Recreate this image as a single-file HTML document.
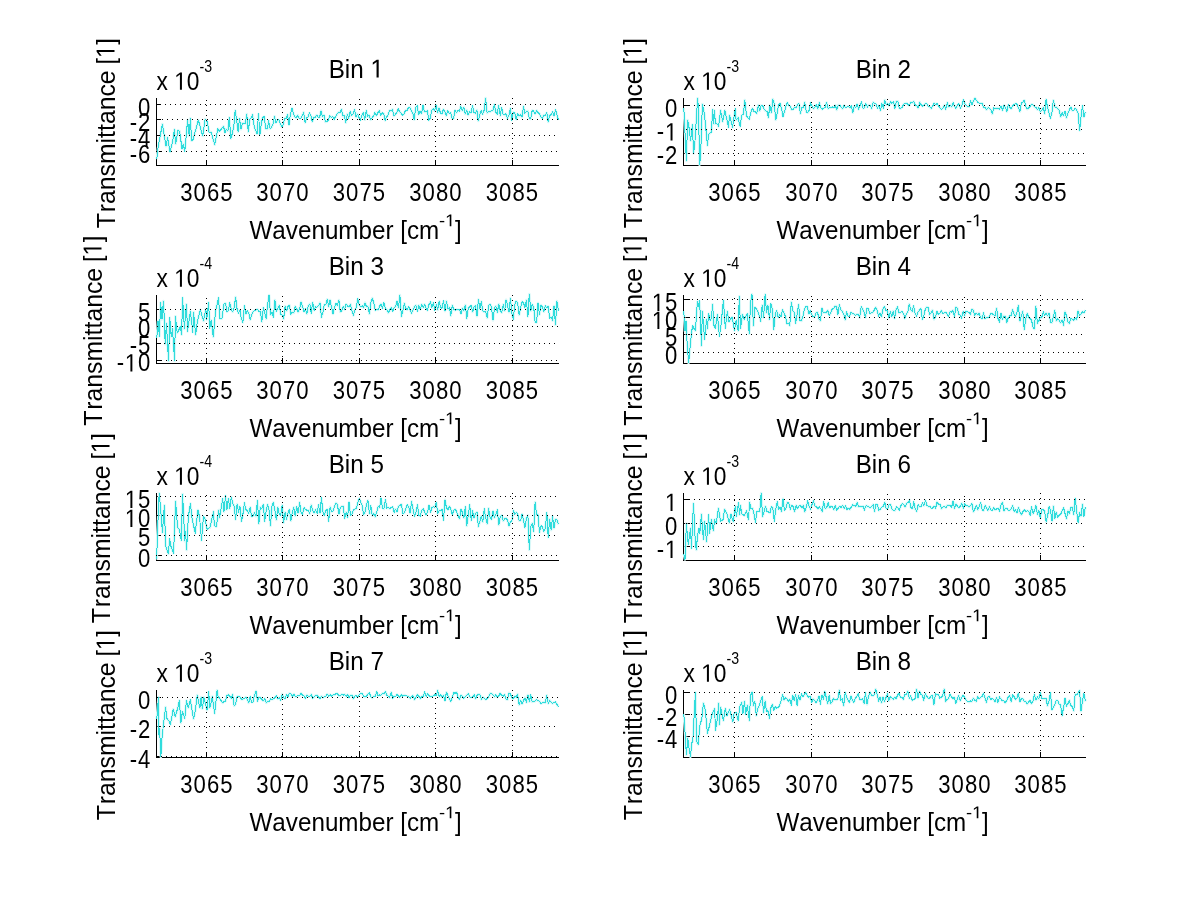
<!DOCTYPE html>
<html><head><meta charset="utf-8"><title>Bins</title>
<style>html,body{margin:0;padding:0;background:#fff;overflow:hidden;}svg{display:block;}text{font-family:"Liberation Sans",sans-serif;font-size:25px;fill:#000;font-kerning:none;}</style>
</head><body>
<svg width="1200" height="901" viewBox="0 0 1200 901">
<rect width="1200" height="901" fill="#fff"/>
<g>
<path d="M156.5 98V166M156 165.5H559M156 104.5H161M156 119.5H161M156 135.5H161M156 151.5H161M206.5 166V160M282.5 166V160M359.5 166V160M435.5 166V160M512.5 166V160" stroke="#000" stroke-width="1" fill="none" shape-rendering="crispEdges"/>
<polyline points="156.8,159.1 158.0,147.9 162.4,124.0 166.0,146.3 167.6,137.6 170.0,151.9 172.8,140.7 174.4,129.6 175.6,143.9 178.0,130.4 179.6,131.2 182.0,148.7 183.2,143.9 184.8,151.1 187.6,120.0 189.2,136.0 190.4,118.4 191.6,140.7 193.2,139.2 198.3,120.0 202.7,136.0 205.1,119.2 207.1,121.6 209.1,132.0 211.1,132.0 214.7,144.7 217.9,128.8 219.5,131.2 223.5,126.4 225.0,132.6 226.4,129.1 227.9,130.8 229.3,117.5 230.8,138.5 232.3,133.6 233.7,127.2 235.2,110.5 236.6,119.3 238.1,131.8 239.5,118.5 241.0,129.2 242.4,123.4 243.9,123.1 245.4,123.5 246.8,114.1 248.3,132.0 249.7,119.2 251.2,118.1 252.6,114.6 254.1,126.1 255.6,130.2 257.0,134.0 258.5,114.0 259.9,134.4 261.4,123.1 262.8,117.3 264.3,116.7 265.7,128.8 267.2,129.1 268.7,120.9 270.1,128.6 271.6,127.2 273.0,123.9 274.5,116.2 275.9,122.6 277.4,120.4 278.8,119.8 280.3,123.4 281.8,127.0 283.2,124.9 284.7,118.4 286.1,118.3 287.6,114.7 289.0,124.7 290.5,114.1 292.0,108.0 293.4,113.9 294.9,116.9 296.3,117.8 297.8,115.2 299.2,118.3 300.7,118.4 302.1,116.0 303.6,112.1 305.1,122.5 306.5,118.1 308.0,116.8 309.4,113.0 310.9,116.0 312.3,121.7 313.8,117.1 315.2,117.2 316.7,115.0 318.2,117.1 319.6,117.2 321.1,110.8 322.5,116.6 324.0,115.2 325.4,121.9 326.9,121.8 328.4,119.9 329.8,115.8 331.3,117.3 332.7,116.8 334.2,119.3 335.6,116.4 337.1,114.2 338.5,112.3 340.0,112.7 341.5,109.3 342.9,116.2 344.4,115.5 345.8,122.7 347.3,114.1 348.7,118.2 350.2,111.3 351.6,115.5 353.1,113.9 354.6,109.8 356.0,116.9 357.5,114.2 358.9,117.4 360.4,120.2 361.8,115.8 363.3,112.7 364.8,119.8 366.2,110.6 367.7,116.5 369.1,115.2 370.6,119.8 372.0,118.1 373.5,115.9 374.9,112.4 376.4,115.6 377.9,112.7 379.3,110.5 380.8,115.2 382.2,112.8 383.7,113.6 385.1,120.5 386.6,116.9 388.0,115.1 389.5,110.6 391.0,111.0 392.4,109.3 393.9,116.0 395.3,114.5 396.8,112.7 398.2,108.9 399.7,111.6 401.2,113.6 402.6,115.1 404.1,113.7 405.5,110.4 407.0,110.5 408.4,107.8 409.9,107.4 411.3,110.5 412.8,113.4 414.3,119.7 415.7,107.6 417.2,105.7 418.6,114.5 420.1,111.3 421.5,113.5 423.0,105.3 424.4,111.7 425.9,111.9 427.4,110.7 428.8,120.2 430.3,118.0 431.7,110.0 433.2,108.9 434.6,111.0 436.1,105.0 437.6,112.6 439.0,107.9 440.5,113.2 441.9,113.9 443.4,109.4 444.8,111.7 446.3,115.7 447.7,110.9 449.2,113.2 450.7,112.6 452.1,118.6 453.6,118.5 455.0,110.4 456.5,112.6 457.9,110.7 459.4,111.1 460.8,106.1 462.3,110.5 463.8,107.5 465.2,114.0 466.7,110.2 468.1,115.2 469.6,111.7 471.0,112.5 472.5,106.0 474.0,112.5 475.4,113.4 476.9,110.0 478.3,121.0 479.8,114.2 481.2,110.8 482.7,114.1 484.1,110.2 485.6,98.0 487.1,113.1 488.5,111.5 490.0,111.8 491.4,110.7 492.9,110.7 494.3,104.5 495.8,112.4 497.2,114.2 498.7,105.5 500.2,115.7 501.6,107.7 503.1,114.0 504.5,115.0 506.0,113.7 507.4,118.8 508.9,115.4 510.4,108.6 511.8,120.2 513.3,112.4 514.7,112.9 516.2,119.3 517.6,113.9 519.1,116.2 520.5,114.5 522.0,117.3 523.5,106.3 524.9,113.3 526.4,111.3 527.8,111.0 529.3,118.5 530.7,118.9 532.2,110.5 533.6,111.1 535.1,113.8 536.6,110.5 538.0,112.7 539.5,113.7 540.9,116.6 542.4,118.5 543.8,115.1 545.3,115.3 546.8,112.8 548.2,122.0 549.7,115.3 551.1,114.8 552.6,111.8 554.0,116.1 555.5,109.9 556.9,114.3 558.4,120.0" fill="none" stroke="#d6f8f8" stroke-width="2.6" stroke-linejoin="round"/>
<polyline points="156.8,159.1 158.0,147.9 162.4,124.0 166.0,146.3 167.6,137.6 170.0,151.9 172.8,140.7 174.4,129.6 175.6,143.9 178.0,130.4 179.6,131.2 182.0,148.7 183.2,143.9 184.8,151.1 187.6,120.0 189.2,136.0 190.4,118.4 191.6,140.7 193.2,139.2 198.3,120.0 202.7,136.0 205.1,119.2 207.1,121.6 209.1,132.0 211.1,132.0 214.7,144.7 217.9,128.8 219.5,131.2 223.5,126.4 225.0,132.6 226.4,129.1 227.9,130.8 229.3,117.5 230.8,138.5 232.3,133.6 233.7,127.2 235.2,110.5 236.6,119.3 238.1,131.8 239.5,118.5 241.0,129.2 242.4,123.4 243.9,123.1 245.4,123.5 246.8,114.1 248.3,132.0 249.7,119.2 251.2,118.1 252.6,114.6 254.1,126.1 255.6,130.2 257.0,134.0 258.5,114.0 259.9,134.4 261.4,123.1 262.8,117.3 264.3,116.7 265.7,128.8 267.2,129.1 268.7,120.9 270.1,128.6 271.6,127.2 273.0,123.9 274.5,116.2 275.9,122.6 277.4,120.4 278.8,119.8 280.3,123.4 281.8,127.0 283.2,124.9 284.7,118.4 286.1,118.3 287.6,114.7 289.0,124.7 290.5,114.1 292.0,108.0 293.4,113.9 294.9,116.9 296.3,117.8 297.8,115.2 299.2,118.3 300.7,118.4 302.1,116.0 303.6,112.1 305.1,122.5 306.5,118.1 308.0,116.8 309.4,113.0 310.9,116.0 312.3,121.7 313.8,117.1 315.2,117.2 316.7,115.0 318.2,117.1 319.6,117.2 321.1,110.8 322.5,116.6 324.0,115.2 325.4,121.9 326.9,121.8 328.4,119.9 329.8,115.8 331.3,117.3 332.7,116.8 334.2,119.3 335.6,116.4 337.1,114.2 338.5,112.3 340.0,112.7 341.5,109.3 342.9,116.2 344.4,115.5 345.8,122.7 347.3,114.1 348.7,118.2 350.2,111.3 351.6,115.5 353.1,113.9 354.6,109.8 356.0,116.9 357.5,114.2 358.9,117.4 360.4,120.2 361.8,115.8 363.3,112.7 364.8,119.8 366.2,110.6 367.7,116.5 369.1,115.2 370.6,119.8 372.0,118.1 373.5,115.9 374.9,112.4 376.4,115.6 377.9,112.7 379.3,110.5 380.8,115.2 382.2,112.8 383.7,113.6 385.1,120.5 386.6,116.9 388.0,115.1 389.5,110.6 391.0,111.0 392.4,109.3 393.9,116.0 395.3,114.5 396.8,112.7 398.2,108.9 399.7,111.6 401.2,113.6 402.6,115.1 404.1,113.7 405.5,110.4 407.0,110.5 408.4,107.8 409.9,107.4 411.3,110.5 412.8,113.4 414.3,119.7 415.7,107.6 417.2,105.7 418.6,114.5 420.1,111.3 421.5,113.5 423.0,105.3 424.4,111.7 425.9,111.9 427.4,110.7 428.8,120.2 430.3,118.0 431.7,110.0 433.2,108.9 434.6,111.0 436.1,105.0 437.6,112.6 439.0,107.9 440.5,113.2 441.9,113.9 443.4,109.4 444.8,111.7 446.3,115.7 447.7,110.9 449.2,113.2 450.7,112.6 452.1,118.6 453.6,118.5 455.0,110.4 456.5,112.6 457.9,110.7 459.4,111.1 460.8,106.1 462.3,110.5 463.8,107.5 465.2,114.0 466.7,110.2 468.1,115.2 469.6,111.7 471.0,112.5 472.5,106.0 474.0,112.5 475.4,113.4 476.9,110.0 478.3,121.0 479.8,114.2 481.2,110.8 482.7,114.1 484.1,110.2 485.6,98.0 487.1,113.1 488.5,111.5 490.0,111.8 491.4,110.7 492.9,110.7 494.3,104.5 495.8,112.4 497.2,114.2 498.7,105.5 500.2,115.7 501.6,107.7 503.1,114.0 504.5,115.0 506.0,113.7 507.4,118.8 508.9,115.4 510.4,108.6 511.8,120.2 513.3,112.4 514.7,112.9 516.2,119.3 517.6,113.9 519.1,116.2 520.5,114.5 522.0,117.3 523.5,106.3 524.9,113.3 526.4,111.3 527.8,111.0 529.3,118.5 530.7,118.9 532.2,110.5 533.6,111.1 535.1,113.8 536.6,110.5 538.0,112.7 539.5,113.7 540.9,116.6 542.4,118.5 543.8,115.1 545.3,115.3 546.8,112.8 548.2,122.0 549.7,115.3 551.1,114.8 552.6,111.8 554.0,116.1 555.5,109.9 556.9,114.3 558.4,120.0" fill="none" stroke="#30dcdc" stroke-width="1" stroke-linejoin="round" shape-rendering="crispEdges"/>
<path d="M206.5 166V98M282.5 163V98M359.5 165V98M435.5 162V98M512.5 164V98M160 104.5H559M157 119.5H559M159 135.5H559M156 151.5H559" stroke="#000" stroke-width="1" stroke-dasharray="1 4" fill="none" shape-rendering="crispEdges"/>
</g>
<g>
<path d="M683.5 98V166M683 165.5H1086M683 105.5H690M683 129.5H690M683 153.5H690M734.5 166V160M811.5 166V160M887.5 166V160M964.5 166V160M1040.5 166V160" stroke="#000" stroke-width="1" fill="none" shape-rendering="crispEdges"/>
<polyline points="683.8,108.0 685.4,140.7 686.4,160.7 687.6,120.0 688.6,124.0 690.6,140.7 692.4,124.8 693.6,153.5 695.0,140.7 697.6,98.4 698.6,110.4 699.5,164.8 700.6,155.9 702.4,104.0 704.6,115.2 707.4,145.5 708.6,134.4 711.4,132.0 712.7,109.6 713.8,124.0 714.4,110.4 715.4,123.2 717.4,124.0 718.6,126.4 720.6,110.4 722.6,121.6 724.9,110.4 728.5,127.2 729.5,115.2 732.5,127.2 735.3,108.8 736.1,120.0 738.1,117.6 740.1,126.4 741.7,115.2 743.3,114.4 744.8,100.0 746.5,116.0 749.3,119.2 751.0,112.0 752.5,108.4 753.9,111.5 755.4,111.8 756.8,113.4 758.3,105.0 759.7,110.9 761.2,105.4 762.6,105.7 764.1,109.0 765.5,110.9 767.0,111.2 768.4,117.7 769.9,105.1 771.4,112.7 772.8,99.0 774.3,103.6 775.7,120.0 777.2,113.1 778.6,105.1 780.1,103.4 781.5,108.4 783.0,116.5 784.4,112.1 785.9,106.2 787.3,102.7 788.8,105.3 790.3,106.3 791.7,109.7 793.2,109.2 794.6,107.3 796.1,108.0 797.5,104.6 799.0,103.5 800.4,113.6 801.9,107.7 803.3,107.7 804.8,102.1 806.2,111.8 807.7,112.6 809.2,110.3 810.6,102.8 812.1,105.9 813.5,108.7 815.0,107.3 816.4,104.9 817.9,109.0 819.3,102.5 820.8,107.9 822.2,109.3 823.7,108.1 825.1,107.4 826.6,102.5 828.1,108.7 829.5,107.2 831.0,107.7 832.4,107.0 833.9,107.7 835.3,105.2 836.8,110.0 838.2,105.0 839.7,105.1 841.1,107.0 842.6,108.8 844.1,105.3 845.5,107.5 847.0,106.9 848.4,106.3 849.9,107.5 851.3,105.9 852.8,112.7 854.2,106.5 855.7,107.5 857.1,104.0 858.6,109.3 860.0,105.5 861.5,102.0 863.0,108.3 864.4,107.9 865.9,103.7 867.3,107.1 868.8,105.0 870.2,105.3 871.7,108.6 873.1,102.3 874.6,103.7 876.0,104.1 877.5,108.1 878.9,105.6 880.4,110.6 881.9,103.4 883.3,108.4 884.8,100.1 886.2,104.7 887.7,103.7 889.1,105.6 890.6,101.7 892.0,103.3 893.5,101.8 894.9,108.4 896.4,101.3 897.8,101.2 899.3,108.1 900.8,108.4 902.2,107.2 903.7,104.1 905.1,103.7 906.6,103.0 908.0,104.8 909.5,105.5 910.9,102.1 912.4,102.9 913.8,101.4 915.3,105.2 916.7,105.8 918.2,108.1 919.7,102.1 921.1,104.8 922.6,106.2 924.0,105.4 925.5,103.6 926.9,103.7 928.4,106.4 929.8,107.0 931.3,108.6 932.7,106.0 934.2,103.2 935.6,104.5 937.1,103.7 938.6,105.9 940.0,107.8 941.5,109.2 942.9,108.1 944.4,105.2 945.8,109.3 947.3,102.6 948.7,106.9 950.2,104.9 951.6,106.9 953.1,102.7 954.5,106.0 956.0,108.4 957.5,105.1 958.9,103.7 960.4,108.1 961.8,106.0 963.3,99.9 964.7,103.2 966.2,105.5 967.6,106.8 969.1,106.7 970.5,100.9 972.0,104.5 973.4,101.1 974.9,98.0 976.4,100.3 977.8,102.3 979.3,103.1 980.7,103.2 982.2,103.1 983.6,107.4 985.1,107.5 986.5,109.7 988.0,107.7 989.4,108.3 990.9,109.8 992.3,114.0 993.8,107.8 995.3,108.5 996.7,108.2 998.2,108.6 999.6,109.2 1001.1,106.3 1002.5,110.3 1004.0,105.2 1005.4,107.7 1006.9,111.5 1008.3,104.8 1009.8,107.3 1011.3,108.9 1012.7,105.5 1014.2,104.4 1015.6,103.6 1017.1,104.3 1018.5,107.8 1020.0,111.5 1021.4,103.1 1022.9,102.1 1024.3,100.3 1025.8,106.4 1027.2,109.1 1028.7,108.0 1030.2,106.1 1031.6,104.3 1033.1,104.9 1034.5,106.8 1036.0,107.5 1037.4,109.6 1038.9,107.6 1040.3,111.8 1041.8,110.3 1043.2,107.4 1044.7,113.8 1046.1,99.5 1047.6,107.7 1049.1,113.3 1050.5,118.3 1052.0,111.7 1053.4,100.3 1054.9,106.9 1056.3,107.3 1057.8,108.7 1059.2,110.4 1060.7,117.0 1062.1,112.7 1063.6,115.6 1065.0,111.5 1066.5,118.0 1068.0,112.8 1069.4,109.8 1070.9,106.9 1072.3,110.5 1073.8,110.3 1075.2,108.4 1076.7,110.0 1078.1,113.2 1079.6,130.5 1081.0,116.9 1082.5,105.7 1083.9,117.0 1085.4,112.0" fill="none" stroke="#d6f8f8" stroke-width="2.6" stroke-linejoin="round"/>
<polyline points="683.8,108.0 685.4,140.7 686.4,160.7 687.6,120.0 688.6,124.0 690.6,140.7 692.4,124.8 693.6,153.5 695.0,140.7 697.6,98.4 698.6,110.4 699.5,164.8 700.6,155.9 702.4,104.0 704.6,115.2 707.4,145.5 708.6,134.4 711.4,132.0 712.7,109.6 713.8,124.0 714.4,110.4 715.4,123.2 717.4,124.0 718.6,126.4 720.6,110.4 722.6,121.6 724.9,110.4 728.5,127.2 729.5,115.2 732.5,127.2 735.3,108.8 736.1,120.0 738.1,117.6 740.1,126.4 741.7,115.2 743.3,114.4 744.8,100.0 746.5,116.0 749.3,119.2 751.0,112.0 752.5,108.4 753.9,111.5 755.4,111.8 756.8,113.4 758.3,105.0 759.7,110.9 761.2,105.4 762.6,105.7 764.1,109.0 765.5,110.9 767.0,111.2 768.4,117.7 769.9,105.1 771.4,112.7 772.8,99.0 774.3,103.6 775.7,120.0 777.2,113.1 778.6,105.1 780.1,103.4 781.5,108.4 783.0,116.5 784.4,112.1 785.9,106.2 787.3,102.7 788.8,105.3 790.3,106.3 791.7,109.7 793.2,109.2 794.6,107.3 796.1,108.0 797.5,104.6 799.0,103.5 800.4,113.6 801.9,107.7 803.3,107.7 804.8,102.1 806.2,111.8 807.7,112.6 809.2,110.3 810.6,102.8 812.1,105.9 813.5,108.7 815.0,107.3 816.4,104.9 817.9,109.0 819.3,102.5 820.8,107.9 822.2,109.3 823.7,108.1 825.1,107.4 826.6,102.5 828.1,108.7 829.5,107.2 831.0,107.7 832.4,107.0 833.9,107.7 835.3,105.2 836.8,110.0 838.2,105.0 839.7,105.1 841.1,107.0 842.6,108.8 844.1,105.3 845.5,107.5 847.0,106.9 848.4,106.3 849.9,107.5 851.3,105.9 852.8,112.7 854.2,106.5 855.7,107.5 857.1,104.0 858.6,109.3 860.0,105.5 861.5,102.0 863.0,108.3 864.4,107.9 865.9,103.7 867.3,107.1 868.8,105.0 870.2,105.3 871.7,108.6 873.1,102.3 874.6,103.7 876.0,104.1 877.5,108.1 878.9,105.6 880.4,110.6 881.9,103.4 883.3,108.4 884.8,100.1 886.2,104.7 887.7,103.7 889.1,105.6 890.6,101.7 892.0,103.3 893.5,101.8 894.9,108.4 896.4,101.3 897.8,101.2 899.3,108.1 900.8,108.4 902.2,107.2 903.7,104.1 905.1,103.7 906.6,103.0 908.0,104.8 909.5,105.5 910.9,102.1 912.4,102.9 913.8,101.4 915.3,105.2 916.7,105.8 918.2,108.1 919.7,102.1 921.1,104.8 922.6,106.2 924.0,105.4 925.5,103.6 926.9,103.7 928.4,106.4 929.8,107.0 931.3,108.6 932.7,106.0 934.2,103.2 935.6,104.5 937.1,103.7 938.6,105.9 940.0,107.8 941.5,109.2 942.9,108.1 944.4,105.2 945.8,109.3 947.3,102.6 948.7,106.9 950.2,104.9 951.6,106.9 953.1,102.7 954.5,106.0 956.0,108.4 957.5,105.1 958.9,103.7 960.4,108.1 961.8,106.0 963.3,99.9 964.7,103.2 966.2,105.5 967.6,106.8 969.1,106.7 970.5,100.9 972.0,104.5 973.4,101.1 974.9,98.0 976.4,100.3 977.8,102.3 979.3,103.1 980.7,103.2 982.2,103.1 983.6,107.4 985.1,107.5 986.5,109.7 988.0,107.7 989.4,108.3 990.9,109.8 992.3,114.0 993.8,107.8 995.3,108.5 996.7,108.2 998.2,108.6 999.6,109.2 1001.1,106.3 1002.5,110.3 1004.0,105.2 1005.4,107.7 1006.9,111.5 1008.3,104.8 1009.8,107.3 1011.3,108.9 1012.7,105.5 1014.2,104.4 1015.6,103.6 1017.1,104.3 1018.5,107.8 1020.0,111.5 1021.4,103.1 1022.9,102.1 1024.3,100.3 1025.8,106.4 1027.2,109.1 1028.7,108.0 1030.2,106.1 1031.6,104.3 1033.1,104.9 1034.5,106.8 1036.0,107.5 1037.4,109.6 1038.9,107.6 1040.3,111.8 1041.8,110.3 1043.2,107.4 1044.7,113.8 1046.1,99.5 1047.6,107.7 1049.1,113.3 1050.5,118.3 1052.0,111.7 1053.4,100.3 1054.9,106.9 1056.3,107.3 1057.8,108.7 1059.2,110.4 1060.7,117.0 1062.1,112.7 1063.6,115.6 1065.0,111.5 1066.5,118.0 1068.0,112.8 1069.4,109.8 1070.9,106.9 1072.3,110.5 1073.8,110.3 1075.2,108.4 1076.7,110.0 1078.1,113.2 1079.6,130.5 1081.0,116.9 1082.5,105.7 1083.9,117.0 1085.4,112.0" fill="none" stroke="#30dcdc" stroke-width="1" stroke-linejoin="round" shape-rendering="crispEdges"/>
<path d="M734.5 166V98M811.5 163V98M887.5 165V98M964.5 162V98M1040.5 164V98M684 105.5H1086M686 129.5H1086M683 153.5H1086" stroke="#000" stroke-width="1" stroke-dasharray="1 4" fill="none" shape-rendering="crispEdges"/>
</g>
<g>
<path d="M156.5 295V364M156 363.5H559M156 309.5H161M156 326.5H161M156 343.5H161M156 360.5H161M206.5 364V358M282.5 364V358M359.5 364V358M435.5 364V358M512.5 364V358" stroke="#000" stroke-width="1" fill="none" shape-rendering="crispEdges"/>
<polyline points="156.8,337.7 158.0,321.0 159.4,336.2 160.6,302.6 162.0,319.4 163.4,301.0 164.4,321.0 165.2,344.1 166.4,323.4 168.5,360.9 169.8,317.8 171.2,336.2 172.5,329.0 174.6,360.9 175.4,316.2 177.2,333.0 180.4,326.6 181.6,334.6 182.6,297.8 184.4,329.0 186.4,304.2 187.6,331.4 189.2,319.4 190.4,311.4 192.8,332.2 193.6,312.2 195.6,334.6 197.6,320.2 200.3,309.8 203.5,321.0 205.9,309.0 206.7,319.4 208.6,302.6 209.9,328.2 211.1,320.2 213.3,336.9 215.5,311.4 218.6,297.8 219.9,318.6 221.9,318.6 224.0,304.2 225.5,303.3 226.9,311.9 228.4,310.4 229.8,302.7 231.3,309.6 232.7,311.9 234.2,307.7 235.6,297.0 237.1,309.2 238.5,313.0 240.0,310.3 241.4,318.9 242.9,322.5 244.4,305.9 245.8,313.9 247.3,310.9 248.7,312.8 250.2,319.7 251.6,315.0 253.1,311.7 254.5,310.3 256.0,310.1 257.4,309.1 258.9,311.4 260.3,311.4 261.8,321.9 263.3,307.9 264.7,313.0 266.2,318.9 267.6,304.4 269.1,295.0 270.5,314.6 272.0,311.8 273.4,317.1 274.9,300.0 276.3,311.2 277.8,308.4 279.2,305.4 280.7,314.4 282.2,315.1 283.6,319.0 285.1,306.2 286.5,311.0 288.0,306.4 289.4,305.2 290.9,314.4 292.3,312.1 293.8,312.9 295.2,306.4 296.7,308.7 298.1,312.1 299.6,308.9 301.1,301.8 302.5,306.8 304.0,311.5 305.4,309.0 306.9,313.8 308.3,305.8 309.8,304.0 311.2,313.2 312.7,302.5 314.1,310.3 315.6,306.9 317.1,307.1 318.5,305.8 320.0,302.7 321.4,317.3 322.9,312.3 324.3,304.9 325.8,304.8 327.2,299.3 328.7,306.8 330.1,300.0 331.6,307.5 333.0,313.9 334.5,307.2 336.0,303.6 337.4,305.5 338.9,300.1 340.3,312.0 341.8,310.8 343.2,306.7 344.7,309.4 346.1,304.2 347.6,306.0 349.0,307.1 350.5,304.1 351.9,310.7 353.4,315.4 354.9,309.9 356.3,307.7 357.8,298.8 359.2,304.5 360.7,306.9 362.1,305.8 363.6,307.8 365.0,302.6 366.5,306.8 367.9,306.5 369.4,314.0 370.8,302.7 372.3,298.1 373.8,303.1 375.2,310.3 376.7,309.6 378.1,310.0 379.6,306.3 381.0,303.8 382.5,308.4 383.9,302.8 385.4,308.7 386.8,309.4 388.3,313.0 389.7,310.1 391.2,307.6 392.7,311.1 394.1,308.1 395.6,306.3 397.0,301.2 398.5,307.7 399.9,295.0 401.4,316.4 402.8,311.0 404.3,303.2 405.7,308.2 407.2,309.8 408.6,306.8 410.1,309.7 411.6,313.3 413.0,310.1 414.5,306.5 415.9,305.4 417.4,311.1 418.8,305.4 420.3,309.4 421.7,304.4 423.2,307.5 424.6,304.4 426.1,308.6 427.5,310.3 429.0,304.4 430.5,301.9 431.9,307.6 433.4,302.9 434.8,310.1 436.3,304.6 437.7,309.9 439.2,301.4 440.6,307.7 442.1,308.2 443.5,301.0 445.0,311.1 446.4,301.0 447.9,309.0 449.4,307.5 450.8,315.9 452.3,305.2 453.7,309.7 455.2,310.2 456.6,309.5 458.1,309.8 459.5,309.8 461.0,313.6 462.4,308.3 463.9,310.6 465.3,305.0 466.8,318.5 468.3,308.2 469.7,306.6 471.2,305.5 472.6,311.9 474.1,306.9 475.5,305.9 477.0,316.2 478.4,299.6 479.9,309.0 481.3,301.6 482.8,311.0 484.3,312.0 485.7,311.4 487.2,318.0 488.6,305.5 490.1,304.3 491.5,307.2 493.0,320.4 494.4,308.2 495.9,306.1 497.3,312.5 498.8,304.1 500.2,311.0 501.7,312.7 503.2,304.6 504.6,310.7 506.1,299.8 507.5,305.1 509.0,312.3 510.4,298.3 511.9,313.1 513.3,319.4 514.8,304.4 516.2,301.1 517.7,303.3 519.1,314.9 520.6,308.0 522.1,301.6 523.5,302.9 525.0,307.5 526.4,300.1 527.9,316.4 529.3,294.0 530.8,311.0 532.2,304.6 533.7,307.2 535.1,322.0 536.6,322.4 538.0,303.1 539.5,314.6 541.0,305.1 542.4,306.8 543.9,311.7 545.3,305.9 546.8,307.8 548.2,306.4 549.7,318.1 551.1,317.3 552.6,320.6 554.0,306.1 555.5,325.0 556.9,301.0 558.4,310.6" fill="none" stroke="#d6f8f8" stroke-width="2.6" stroke-linejoin="round"/>
<polyline points="156.8,337.7 158.0,321.0 159.4,336.2 160.6,302.6 162.0,319.4 163.4,301.0 164.4,321.0 165.2,344.1 166.4,323.4 168.5,360.9 169.8,317.8 171.2,336.2 172.5,329.0 174.6,360.9 175.4,316.2 177.2,333.0 180.4,326.6 181.6,334.6 182.6,297.8 184.4,329.0 186.4,304.2 187.6,331.4 189.2,319.4 190.4,311.4 192.8,332.2 193.6,312.2 195.6,334.6 197.6,320.2 200.3,309.8 203.5,321.0 205.9,309.0 206.7,319.4 208.6,302.6 209.9,328.2 211.1,320.2 213.3,336.9 215.5,311.4 218.6,297.8 219.9,318.6 221.9,318.6 224.0,304.2 225.5,303.3 226.9,311.9 228.4,310.4 229.8,302.7 231.3,309.6 232.7,311.9 234.2,307.7 235.6,297.0 237.1,309.2 238.5,313.0 240.0,310.3 241.4,318.9 242.9,322.5 244.4,305.9 245.8,313.9 247.3,310.9 248.7,312.8 250.2,319.7 251.6,315.0 253.1,311.7 254.5,310.3 256.0,310.1 257.4,309.1 258.9,311.4 260.3,311.4 261.8,321.9 263.3,307.9 264.7,313.0 266.2,318.9 267.6,304.4 269.1,295.0 270.5,314.6 272.0,311.8 273.4,317.1 274.9,300.0 276.3,311.2 277.8,308.4 279.2,305.4 280.7,314.4 282.2,315.1 283.6,319.0 285.1,306.2 286.5,311.0 288.0,306.4 289.4,305.2 290.9,314.4 292.3,312.1 293.8,312.9 295.2,306.4 296.7,308.7 298.1,312.1 299.6,308.9 301.1,301.8 302.5,306.8 304.0,311.5 305.4,309.0 306.9,313.8 308.3,305.8 309.8,304.0 311.2,313.2 312.7,302.5 314.1,310.3 315.6,306.9 317.1,307.1 318.5,305.8 320.0,302.7 321.4,317.3 322.9,312.3 324.3,304.9 325.8,304.8 327.2,299.3 328.7,306.8 330.1,300.0 331.6,307.5 333.0,313.9 334.5,307.2 336.0,303.6 337.4,305.5 338.9,300.1 340.3,312.0 341.8,310.8 343.2,306.7 344.7,309.4 346.1,304.2 347.6,306.0 349.0,307.1 350.5,304.1 351.9,310.7 353.4,315.4 354.9,309.9 356.3,307.7 357.8,298.8 359.2,304.5 360.7,306.9 362.1,305.8 363.6,307.8 365.0,302.6 366.5,306.8 367.9,306.5 369.4,314.0 370.8,302.7 372.3,298.1 373.8,303.1 375.2,310.3 376.7,309.6 378.1,310.0 379.6,306.3 381.0,303.8 382.5,308.4 383.9,302.8 385.4,308.7 386.8,309.4 388.3,313.0 389.7,310.1 391.2,307.6 392.7,311.1 394.1,308.1 395.6,306.3 397.0,301.2 398.5,307.7 399.9,295.0 401.4,316.4 402.8,311.0 404.3,303.2 405.7,308.2 407.2,309.8 408.6,306.8 410.1,309.7 411.6,313.3 413.0,310.1 414.5,306.5 415.9,305.4 417.4,311.1 418.8,305.4 420.3,309.4 421.7,304.4 423.2,307.5 424.6,304.4 426.1,308.6 427.5,310.3 429.0,304.4 430.5,301.9 431.9,307.6 433.4,302.9 434.8,310.1 436.3,304.6 437.7,309.9 439.2,301.4 440.6,307.7 442.1,308.2 443.5,301.0 445.0,311.1 446.4,301.0 447.9,309.0 449.4,307.5 450.8,315.9 452.3,305.2 453.7,309.7 455.2,310.2 456.6,309.5 458.1,309.8 459.5,309.8 461.0,313.6 462.4,308.3 463.9,310.6 465.3,305.0 466.8,318.5 468.3,308.2 469.7,306.6 471.2,305.5 472.6,311.9 474.1,306.9 475.5,305.9 477.0,316.2 478.4,299.6 479.9,309.0 481.3,301.6 482.8,311.0 484.3,312.0 485.7,311.4 487.2,318.0 488.6,305.5 490.1,304.3 491.5,307.2 493.0,320.4 494.4,308.2 495.9,306.1 497.3,312.5 498.8,304.1 500.2,311.0 501.7,312.7 503.2,304.6 504.6,310.7 506.1,299.8 507.5,305.1 509.0,312.3 510.4,298.3 511.9,313.1 513.3,319.4 514.8,304.4 516.2,301.1 517.7,303.3 519.1,314.9 520.6,308.0 522.1,301.6 523.5,302.9 525.0,307.5 526.4,300.1 527.9,316.4 529.3,294.0 530.8,311.0 532.2,304.6 533.7,307.2 535.1,322.0 536.6,322.4 538.0,303.1 539.5,314.6 541.0,305.1 542.4,306.8 543.9,311.7 545.3,305.9 546.8,307.8 548.2,306.4 549.7,318.1 551.1,317.3 552.6,320.6 554.0,306.1 555.5,325.0 556.9,301.0 558.4,310.6" fill="none" stroke="#30dcdc" stroke-width="1" stroke-linejoin="round" shape-rendering="crispEdges"/>
<path d="M206.5 364V295M282.5 362V295M359.5 360V295M435.5 363V295M512.5 361V295M160 309.5H559M157 326.5H559M159 343.5H559M156 360.5H559" stroke="#000" stroke-width="1" stroke-dasharray="1 4" fill="none" shape-rendering="crispEdges"/>
</g>
<g>
<path d="M683.5 295V364M683 363.5H1086M683 299.5H690M683 317.5H690M683 334.5H690M683 352.5H690M734.5 364V358M811.5 364V358M887.5 364V358M964.5 364V358M1040.5 364V358" stroke="#000" stroke-width="1" fill="none" shape-rendering="crispEdges"/>
<polyline points="683.8,311.4 685.0,331.4 686.0,321.0 687.0,340.9 688.6,362.8 690.6,342.5 691.8,330.6 692.8,325.8 694.2,329.0 695.4,330.6 697.4,301.8 698.2,306.6 699.4,301.0 700.2,313.0 701.4,345.7 702.4,311.4 704.6,339.3 706.6,319.4 707.4,329.0 708.6,313.8 710.2,320.2 711.4,318.6 712.6,304.2 713.8,325.0 715.4,328.2 717.4,314.6 719.4,336.2 721.0,325.0 723.4,300.2 725.3,328.2 727.3,311.4 728.9,321.8 732.1,317.0 734.5,330.6 736.1,320.2 738.1,330.6 739.3,296.2 740.5,328.2 742.5,314.6 744.1,319.4 747.3,313.8 749.3,333.8 750.5,302.6 752.0,294.3 753.4,325.8 754.9,307.2 756.3,308.6 757.8,311.8 759.3,315.4 760.7,321.3 762.2,305.2 763.6,317.5 765.1,294.5 766.5,312.7 768.0,305.5 769.4,319.3 770.9,303.8 772.4,309.8 773.8,329.5 775.3,314.1 776.7,310.8 778.2,317.4 779.6,314.6 781.1,316.5 782.6,309.7 784.0,313.1 785.5,316.5 786.9,323.8 788.4,323.2 789.8,325.7 791.3,302.0 792.7,310.7 794.2,312.3 795.7,323.3 797.1,314.4 798.6,304.6 800.0,320.6 801.5,320.9 802.9,316.2 804.4,309.5 805.8,306.7 807.3,306.6 808.8,314.0 810.2,310.6 811.7,314.7 813.1,316.9 814.6,316.9 816.0,313.0 817.5,312.2 819.0,318.9 820.4,320.9 821.9,308.1 823.3,312.7 824.8,312.1 826.2,312.9 827.7,310.3 829.1,315.3 830.6,313.2 832.1,309.2 833.5,308.6 835.0,306.1 836.4,306.1 837.9,314.4 839.3,304.8 840.8,310.1 842.2,310.9 843.7,314.1 845.2,319.9 846.6,311.8 848.1,316.2 849.5,316.3 851.0,312.4 852.4,313.5 853.9,314.0 855.4,315.4 856.8,314.4 858.3,314.2 859.7,317.7 861.2,306.8 862.6,308.9 864.1,312.5 865.5,317.5 867.0,308.2 868.5,308.9 869.9,313.6 871.4,313.0 872.8,312.5 874.3,309.9 875.7,307.3 877.2,310.8 878.6,316.1 880.1,313.3 881.6,316.8 883.0,308.8 884.5,306.6 885.9,310.6 887.4,310.7 888.8,317.6 890.3,311.6 891.8,316.7 893.2,311.0 894.7,318.3 896.1,309.2 897.6,306.8 899.0,313.2 900.5,312.3 901.9,311.5 903.4,313.3 904.9,318.4 906.3,314.0 907.8,312.2 909.2,304.0 910.7,309.7 912.1,311.4 913.6,306.0 915.0,313.3 916.5,316.4 918.0,312.4 919.4,310.0 920.9,308.7 922.3,319.3 923.8,315.8 925.2,309.7 926.7,307.1 928.2,307.4 929.6,314.9 931.1,312.5 932.5,310.1 934.0,319.4 935.4,317.0 936.9,311.3 938.3,314.2 939.8,313.5 941.3,310.7 942.7,313.1 944.2,313.0 945.6,312.1 947.1,313.9 948.5,316.5 950.0,311.7 951.4,312.1 952.9,310.3 954.4,316.9 955.8,307.1 957.3,308.1 958.7,314.3 960.2,315.3 961.6,318.2 963.1,311.5 964.6,315.8 966.0,310.9 967.5,311.8 968.9,312.2 970.4,314.6 971.8,309.3 973.3,310.0 974.7,315.8 976.2,313.0 977.7,314.8 979.1,312.9 980.6,317.7 982.0,318.7 983.5,312.8 984.9,318.5 986.4,317.8 987.8,317.6 989.3,317.0 990.8,313.5 992.2,313.6 993.7,315.0 995.1,316.2 996.6,308.2 998.0,318.5 999.5,322.0 1001.0,313.5 1002.4,319.2 1003.9,315.9 1005.3,316.2 1006.8,322.6 1008.2,317.8 1009.7,315.8 1011.1,315.9 1012.6,309.6 1014.1,313.9 1015.5,316.9 1017.0,312.1 1018.4,305.4 1019.9,321.1 1021.3,315.9 1022.8,311.1 1024.2,329.5 1025.7,319.5 1027.2,313.3 1028.6,317.0 1030.1,318.6 1031.5,320.0 1033.0,327.2 1034.4,329.0 1035.9,306.2 1037.4,323.4 1038.8,320.9 1040.3,317.5 1041.7,317.8 1043.2,311.9 1044.6,315.0 1046.1,312.8 1047.5,315.8 1049.0,313.1 1050.5,322.2 1051.9,322.7 1053.4,316.9 1054.8,310.2 1056.3,321.0 1057.7,318.6 1059.2,320.4 1060.6,322.8 1062.1,320.1 1063.6,325.5 1065.0,311.6 1066.5,315.9 1067.9,322.2 1069.4,323.5 1070.8,318.7 1072.3,319.2 1073.8,320.3 1075.2,318.2 1076.7,319.5 1078.1,310.8 1079.6,315.5 1081.0,314.2 1082.5,311.6 1083.9,312.8 1085.4,310.0" fill="none" stroke="#d6f8f8" stroke-width="2.6" stroke-linejoin="round"/>
<polyline points="683.8,311.4 685.0,331.4 686.0,321.0 687.0,340.9 688.6,362.8 690.6,342.5 691.8,330.6 692.8,325.8 694.2,329.0 695.4,330.6 697.4,301.8 698.2,306.6 699.4,301.0 700.2,313.0 701.4,345.7 702.4,311.4 704.6,339.3 706.6,319.4 707.4,329.0 708.6,313.8 710.2,320.2 711.4,318.6 712.6,304.2 713.8,325.0 715.4,328.2 717.4,314.6 719.4,336.2 721.0,325.0 723.4,300.2 725.3,328.2 727.3,311.4 728.9,321.8 732.1,317.0 734.5,330.6 736.1,320.2 738.1,330.6 739.3,296.2 740.5,328.2 742.5,314.6 744.1,319.4 747.3,313.8 749.3,333.8 750.5,302.6 752.0,294.3 753.4,325.8 754.9,307.2 756.3,308.6 757.8,311.8 759.3,315.4 760.7,321.3 762.2,305.2 763.6,317.5 765.1,294.5 766.5,312.7 768.0,305.5 769.4,319.3 770.9,303.8 772.4,309.8 773.8,329.5 775.3,314.1 776.7,310.8 778.2,317.4 779.6,314.6 781.1,316.5 782.6,309.7 784.0,313.1 785.5,316.5 786.9,323.8 788.4,323.2 789.8,325.7 791.3,302.0 792.7,310.7 794.2,312.3 795.7,323.3 797.1,314.4 798.6,304.6 800.0,320.6 801.5,320.9 802.9,316.2 804.4,309.5 805.8,306.7 807.3,306.6 808.8,314.0 810.2,310.6 811.7,314.7 813.1,316.9 814.6,316.9 816.0,313.0 817.5,312.2 819.0,318.9 820.4,320.9 821.9,308.1 823.3,312.7 824.8,312.1 826.2,312.9 827.7,310.3 829.1,315.3 830.6,313.2 832.1,309.2 833.5,308.6 835.0,306.1 836.4,306.1 837.9,314.4 839.3,304.8 840.8,310.1 842.2,310.9 843.7,314.1 845.2,319.9 846.6,311.8 848.1,316.2 849.5,316.3 851.0,312.4 852.4,313.5 853.9,314.0 855.4,315.4 856.8,314.4 858.3,314.2 859.7,317.7 861.2,306.8 862.6,308.9 864.1,312.5 865.5,317.5 867.0,308.2 868.5,308.9 869.9,313.6 871.4,313.0 872.8,312.5 874.3,309.9 875.7,307.3 877.2,310.8 878.6,316.1 880.1,313.3 881.6,316.8 883.0,308.8 884.5,306.6 885.9,310.6 887.4,310.7 888.8,317.6 890.3,311.6 891.8,316.7 893.2,311.0 894.7,318.3 896.1,309.2 897.6,306.8 899.0,313.2 900.5,312.3 901.9,311.5 903.4,313.3 904.9,318.4 906.3,314.0 907.8,312.2 909.2,304.0 910.7,309.7 912.1,311.4 913.6,306.0 915.0,313.3 916.5,316.4 918.0,312.4 919.4,310.0 920.9,308.7 922.3,319.3 923.8,315.8 925.2,309.7 926.7,307.1 928.2,307.4 929.6,314.9 931.1,312.5 932.5,310.1 934.0,319.4 935.4,317.0 936.9,311.3 938.3,314.2 939.8,313.5 941.3,310.7 942.7,313.1 944.2,313.0 945.6,312.1 947.1,313.9 948.5,316.5 950.0,311.7 951.4,312.1 952.9,310.3 954.4,316.9 955.8,307.1 957.3,308.1 958.7,314.3 960.2,315.3 961.6,318.2 963.1,311.5 964.6,315.8 966.0,310.9 967.5,311.8 968.9,312.2 970.4,314.6 971.8,309.3 973.3,310.0 974.7,315.8 976.2,313.0 977.7,314.8 979.1,312.9 980.6,317.7 982.0,318.7 983.5,312.8 984.9,318.5 986.4,317.8 987.8,317.6 989.3,317.0 990.8,313.5 992.2,313.6 993.7,315.0 995.1,316.2 996.6,308.2 998.0,318.5 999.5,322.0 1001.0,313.5 1002.4,319.2 1003.9,315.9 1005.3,316.2 1006.8,322.6 1008.2,317.8 1009.7,315.8 1011.1,315.9 1012.6,309.6 1014.1,313.9 1015.5,316.9 1017.0,312.1 1018.4,305.4 1019.9,321.1 1021.3,315.9 1022.8,311.1 1024.2,329.5 1025.7,319.5 1027.2,313.3 1028.6,317.0 1030.1,318.6 1031.5,320.0 1033.0,327.2 1034.4,329.0 1035.9,306.2 1037.4,323.4 1038.8,320.9 1040.3,317.5 1041.7,317.8 1043.2,311.9 1044.6,315.0 1046.1,312.8 1047.5,315.8 1049.0,313.1 1050.5,322.2 1051.9,322.7 1053.4,316.9 1054.8,310.2 1056.3,321.0 1057.7,318.6 1059.2,320.4 1060.6,322.8 1062.1,320.1 1063.6,325.5 1065.0,311.6 1066.5,315.9 1067.9,322.2 1069.4,323.5 1070.8,318.7 1072.3,319.2 1073.8,320.3 1075.2,318.2 1076.7,319.5 1078.1,310.8 1079.6,315.5 1081.0,314.2 1082.5,311.6 1083.9,312.8 1085.4,310.0" fill="none" stroke="#30dcdc" stroke-width="1" stroke-linejoin="round" shape-rendering="crispEdges"/>
<path d="M734.5 364V295M811.5 362V295M887.5 360V295M964.5 363V295M1040.5 361V295M687 299.5H1086M684 317.5H1086M686 334.5H1086M683 352.5H1086" stroke="#000" stroke-width="1" stroke-dasharray="1 4" fill="none" shape-rendering="crispEdges"/>
</g>
<g>
<path d="M156.5 493V561M156 560.5H559M156 496.5H161M156 515.5H161M156 535.5H161M156 555.5H161M206.5 561V555M282.5 561V555M359.5 561V555M435.5 561V555M512.5 561V555" stroke="#000" stroke-width="1" fill="none" shape-rendering="crispEdges"/>
<polyline points="156.8,559.5 157.2,537.9 159.2,493.2 160.4,506.0 162.4,532.4 164.4,505.2 165.6,545.9 166.8,549.1 168.4,553.9 169.6,538.7 171.2,547.5 173.6,553.1 175.6,501.2 177.6,527.6 179.6,530.0 181.2,540.3 182.6,494.0 184.8,541.1 185.6,531.6 186.6,549.9 188.4,516.4 190.4,503.6 192.0,518.0 195.2,533.2 197.9,510.0 199.5,516.4 201.5,540.3 203.5,516.4 205.1,518.8 207.1,529.2 209.9,527.6 213.5,511.6 214.3,525.2 216.3,526.8 218.7,510.0 219.5,518.0 222.7,498.8 224.0,511.6 225.5,495.8 226.9,509.5 228.4,498.7 229.8,508.4 231.3,497.0 232.7,503.1 234.2,506.3 235.6,519.4 237.1,504.1 238.5,512.1 240.0,506.5 241.4,521.3 242.9,514.5 244.4,502.8 245.8,509.4 247.3,510.7 248.7,513.2 250.2,507.2 251.6,516.5 253.1,515.9 254.5,512.7 256.0,516.3 257.4,500.6 258.9,523.7 260.3,507.0 261.8,508.9 263.3,504.6 264.7,521.2 266.2,510.5 267.6,504.5 269.1,510.7 270.5,526.0 272.0,506.2 273.4,502.4 274.9,510.6 276.3,520.0 277.8,507.4 279.2,513.5 280.7,515.3 282.2,505.1 283.6,522.8 285.1,512.2 286.5,519.5 288.0,512.9 289.4,509.5 290.9,520.9 292.3,512.5 293.8,507.4 295.2,515.9 296.7,506.8 298.1,513.0 299.6,502.4 301.1,513.0 302.5,514.1 304.0,507.7 305.4,509.2 306.9,510.3 308.3,510.4 309.8,513.6 311.2,504.9 312.7,510.4 314.1,513.0 315.6,509.7 317.1,513.3 318.5,505.0 320.0,513.3 321.4,497.8 322.9,511.6 324.3,515.3 325.8,510.6 327.2,509.5 328.7,521.1 330.1,506.9 331.6,511.4 333.0,511.2 334.5,506.4 336.0,502.9 337.4,504.6 338.9,514.1 340.3,508.0 341.8,506.2 343.2,506.0 344.7,518.4 346.1,512.2 347.6,517.5 349.0,502.1 350.5,515.1 351.9,514.4 353.4,510.2 354.9,509.1 356.3,508.3 357.8,502.7 359.2,498.5 360.7,501.9 362.1,505.3 363.6,514.8 365.0,512.5 366.5,504.5 367.9,500.5 369.4,513.6 370.8,505.9 372.3,515.8 373.8,513.3 375.2,516.8 376.7,512.1 378.1,506.6 379.6,507.6 381.0,498.4 382.5,508.0 383.9,509.0 385.4,499.7 386.8,508.3 388.3,507.5 389.7,508.6 391.2,507.5 392.7,506.9 394.1,512.4 395.6,509.1 397.0,511.8 398.5,506.4 399.9,505.4 401.4,504.3 402.8,513.6 404.3,512.7 405.7,509.0 407.2,504.9 408.6,506.7 410.1,513.1 411.6,501.4 413.0,508.8 414.5,516.3 415.9,512.9 417.4,504.8 418.8,515.2 420.3,516.1 421.7,510.6 423.2,508.8 424.6,511.9 426.1,514.9 427.5,511.8 429.0,505.4 430.5,512.2 431.9,507.7 433.4,506.7 434.8,507.5 436.3,502.6 437.7,513.6 439.2,510.5 440.6,511.0 442.1,509.5 443.5,520.1 445.0,499.8 446.4,507.7 447.9,509.7 449.4,506.4 450.8,509.0 452.3,514.5 453.7,510.5 455.2,509.1 456.6,511.6 458.1,515.7 459.5,518.8 461.0,509.2 462.4,512.3 463.9,518.0 465.3,506.7 466.8,526.0 468.3,514.4 469.7,504.9 471.2,520.3 472.6,510.8 474.1,518.1 475.5,513.5 477.0,512.2 478.4,526.6 479.9,521.2 481.3,516.4 482.8,522.0 484.3,508.8 485.7,518.1 487.2,523.8 488.6,508.2 490.1,517.8 491.5,519.3 493.0,511.1 494.4,517.8 495.9,514.4 497.3,509.8 498.8,525.0 500.2,517.0 501.7,515.2 503.2,521.0 504.6,518.7 506.1,518.0 507.5,520.1 509.0,526.3 510.4,521.9 511.9,521.2 513.3,510.5 514.8,514.2 516.2,512.5 517.7,513.9 519.1,520.6 520.6,520.4 522.1,514.1 523.5,520.3 525.0,527.6 526.4,518.4 527.9,515.2 529.3,550.0 530.8,526.1 532.2,523.4 533.7,531.5 535.1,502.0 536.6,515.0 538.0,514.4 539.5,532.5 541.0,525.7 542.4,526.9 543.9,531.4 545.3,528.3 546.8,512.7 548.2,537.3 549.7,519.2 551.1,530.1 552.6,516.2 554.0,528.3 555.5,519.2 556.9,519.7 558.4,524.5" fill="none" stroke="#d6f8f8" stroke-width="2.6" stroke-linejoin="round"/>
<polyline points="156.8,559.5 157.2,537.9 159.2,493.2 160.4,506.0 162.4,532.4 164.4,505.2 165.6,545.9 166.8,549.1 168.4,553.9 169.6,538.7 171.2,547.5 173.6,553.1 175.6,501.2 177.6,527.6 179.6,530.0 181.2,540.3 182.6,494.0 184.8,541.1 185.6,531.6 186.6,549.9 188.4,516.4 190.4,503.6 192.0,518.0 195.2,533.2 197.9,510.0 199.5,516.4 201.5,540.3 203.5,516.4 205.1,518.8 207.1,529.2 209.9,527.6 213.5,511.6 214.3,525.2 216.3,526.8 218.7,510.0 219.5,518.0 222.7,498.8 224.0,511.6 225.5,495.8 226.9,509.5 228.4,498.7 229.8,508.4 231.3,497.0 232.7,503.1 234.2,506.3 235.6,519.4 237.1,504.1 238.5,512.1 240.0,506.5 241.4,521.3 242.9,514.5 244.4,502.8 245.8,509.4 247.3,510.7 248.7,513.2 250.2,507.2 251.6,516.5 253.1,515.9 254.5,512.7 256.0,516.3 257.4,500.6 258.9,523.7 260.3,507.0 261.8,508.9 263.3,504.6 264.7,521.2 266.2,510.5 267.6,504.5 269.1,510.7 270.5,526.0 272.0,506.2 273.4,502.4 274.9,510.6 276.3,520.0 277.8,507.4 279.2,513.5 280.7,515.3 282.2,505.1 283.6,522.8 285.1,512.2 286.5,519.5 288.0,512.9 289.4,509.5 290.9,520.9 292.3,512.5 293.8,507.4 295.2,515.9 296.7,506.8 298.1,513.0 299.6,502.4 301.1,513.0 302.5,514.1 304.0,507.7 305.4,509.2 306.9,510.3 308.3,510.4 309.8,513.6 311.2,504.9 312.7,510.4 314.1,513.0 315.6,509.7 317.1,513.3 318.5,505.0 320.0,513.3 321.4,497.8 322.9,511.6 324.3,515.3 325.8,510.6 327.2,509.5 328.7,521.1 330.1,506.9 331.6,511.4 333.0,511.2 334.5,506.4 336.0,502.9 337.4,504.6 338.9,514.1 340.3,508.0 341.8,506.2 343.2,506.0 344.7,518.4 346.1,512.2 347.6,517.5 349.0,502.1 350.5,515.1 351.9,514.4 353.4,510.2 354.9,509.1 356.3,508.3 357.8,502.7 359.2,498.5 360.7,501.9 362.1,505.3 363.6,514.8 365.0,512.5 366.5,504.5 367.9,500.5 369.4,513.6 370.8,505.9 372.3,515.8 373.8,513.3 375.2,516.8 376.7,512.1 378.1,506.6 379.6,507.6 381.0,498.4 382.5,508.0 383.9,509.0 385.4,499.7 386.8,508.3 388.3,507.5 389.7,508.6 391.2,507.5 392.7,506.9 394.1,512.4 395.6,509.1 397.0,511.8 398.5,506.4 399.9,505.4 401.4,504.3 402.8,513.6 404.3,512.7 405.7,509.0 407.2,504.9 408.6,506.7 410.1,513.1 411.6,501.4 413.0,508.8 414.5,516.3 415.9,512.9 417.4,504.8 418.8,515.2 420.3,516.1 421.7,510.6 423.2,508.8 424.6,511.9 426.1,514.9 427.5,511.8 429.0,505.4 430.5,512.2 431.9,507.7 433.4,506.7 434.8,507.5 436.3,502.6 437.7,513.6 439.2,510.5 440.6,511.0 442.1,509.5 443.5,520.1 445.0,499.8 446.4,507.7 447.9,509.7 449.4,506.4 450.8,509.0 452.3,514.5 453.7,510.5 455.2,509.1 456.6,511.6 458.1,515.7 459.5,518.8 461.0,509.2 462.4,512.3 463.9,518.0 465.3,506.7 466.8,526.0 468.3,514.4 469.7,504.9 471.2,520.3 472.6,510.8 474.1,518.1 475.5,513.5 477.0,512.2 478.4,526.6 479.9,521.2 481.3,516.4 482.8,522.0 484.3,508.8 485.7,518.1 487.2,523.8 488.6,508.2 490.1,517.8 491.5,519.3 493.0,511.1 494.4,517.8 495.9,514.4 497.3,509.8 498.8,525.0 500.2,517.0 501.7,515.2 503.2,521.0 504.6,518.7 506.1,518.0 507.5,520.1 509.0,526.3 510.4,521.9 511.9,521.2 513.3,510.5 514.8,514.2 516.2,512.5 517.7,513.9 519.1,520.6 520.6,520.4 522.1,514.1 523.5,520.3 525.0,527.6 526.4,518.4 527.9,515.2 529.3,550.0 530.8,526.1 532.2,523.4 533.7,531.5 535.1,502.0 536.6,515.0 538.0,514.4 539.5,532.5 541.0,525.7 542.4,526.9 543.9,531.4 545.3,528.3 546.8,512.7 548.2,537.3 549.7,519.2 551.1,530.1 552.6,516.2 554.0,528.3 555.5,519.2 556.9,519.7 558.4,524.5" fill="none" stroke="#30dcdc" stroke-width="1" stroke-linejoin="round" shape-rendering="crispEdges"/>
<path d="M206.5 561V493M282.5 558V493M359.5 560V493M435.5 557V493M512.5 559V493M160 496.5H559M157 515.5H559M159 535.5H559M156 555.5H559" stroke="#000" stroke-width="1" stroke-dasharray="1 4" fill="none" shape-rendering="crispEdges"/>
</g>
<g>
<path d="M683.5 493V561M683 560.5H1086M683 499.5H690M683 523.5H690M683 546.5H690M734.5 561V555M811.5 561V555M887.5 561V555M964.5 561V555M1040.5 561V555" stroke="#000" stroke-width="1" fill="none" shape-rendering="crispEdges"/>
<polyline points="683.8,553.9 685.0,559.5 686.4,523.6 688.2,544.3 690.6,528.4 691.4,548.3 692.6,524.4 693.4,503.6 694.2,516.4 695.4,545.9 696.4,549.9 697.4,536.3 699.0,528.4 699.8,533.2 701.4,514.0 703.4,539.5 704.6,521.2 706.6,541.9 708.6,514.8 709.6,533.2 711.4,519.6 713.4,530.8 714.6,519.6 716.2,523.6 718.4,508.4 720.6,521.2 723.0,519.6 724.6,509.2 726.9,514.0 729.3,522.8 730.9,514.0 733.3,522.0 735.3,506.0 736.3,516.4 738.5,502.8 739.6,514.8 740.5,505.2 741.7,514.0 744.5,515.6 746.5,510.8 748.5,519.6 749.6,502.0 751.0,508.4 752.5,508.1 753.9,513.7 755.4,522.4 756.8,511.6 758.3,511.0 759.7,511.5 761.2,493.0 762.6,516.7 764.1,511.4 765.5,506.4 767.0,511.5 768.4,511.8 769.9,513.0 771.4,506.7 772.8,507.6 774.3,521.4 775.7,509.1 777.2,501.7 778.6,509.2 780.1,507.5 781.5,511.5 783.0,498.8 784.4,510.1 785.9,508.4 787.3,502.4 788.8,503.0 790.3,509.4 791.7,505.4 793.2,506.6 794.6,511.6 796.1,505.6 797.5,508.5 799.0,506.1 800.4,505.5 801.9,508.1 803.3,505.3 804.8,512.0 806.2,507.0 807.7,500.9 809.2,506.3 810.6,509.4 812.1,504.1 813.5,500.7 815.0,506.1 816.4,506.5 817.9,508.9 819.3,506.9 820.8,508.7 822.2,511.7 823.7,501.7 825.1,508.4 826.6,507.9 828.1,502.7 829.5,508.0 831.0,506.1 832.4,507.0 833.9,509.7 835.3,505.7 836.8,510.1 838.2,508.2 839.7,506.3 841.1,507.5 842.6,505.5 844.1,508.4 845.5,505.9 847.0,509.6 848.4,508.3 849.9,509.4 851.3,506.9 852.8,504.6 854.2,505.7 855.7,506.3 857.1,502.7 858.6,506.7 860.0,506.3 861.5,506.8 863.0,506.2 864.4,510.1 865.9,505.9 867.3,506.0 868.8,506.8 870.2,507.7 871.7,506.5 873.1,504.6 874.6,511.4 876.0,504.3 877.5,505.0 878.9,510.3 880.4,509.1 881.9,507.2 883.3,506.4 884.8,502.4 886.2,508.4 887.7,509.0 889.1,504.7 890.6,504.5 892.0,509.3 893.5,510.2 894.9,510.6 896.4,506.9 897.8,508.0 899.3,510.1 900.8,505.9 902.2,503.7 903.7,504.7 905.1,507.2 906.6,503.1 908.0,502.6 909.5,499.8 910.9,507.7 912.4,508.7 913.8,501.8 915.3,509.1 916.7,511.4 918.2,504.7 919.7,506.7 921.1,506.4 922.6,503.0 924.0,505.5 925.5,500.7 926.9,505.3 928.4,506.6 929.8,506.0 931.3,508.2 932.7,508.0 934.2,506.0 935.6,508.3 937.1,501.9 938.6,504.4 940.0,504.4 941.5,508.8 942.9,506.9 944.4,506.6 945.8,507.8 947.3,505.4 948.7,505.2 950.2,505.2 951.6,507.2 953.1,501.1 954.5,508.4 956.0,503.8 957.5,506.3 958.9,507.8 960.4,505.9 961.8,503.2 963.3,508.4 964.7,503.8 966.2,505.8 967.6,505.9 969.1,507.0 970.5,505.6 972.0,503.5 973.4,511.9 974.9,508.7 976.4,505.5 977.8,509.9 979.3,506.2 980.7,502.6 982.2,509.8 983.6,510.6 985.1,505.5 986.5,508.0 988.0,510.4 989.4,506.5 990.9,509.9 992.3,510.4 993.8,507.7 995.3,509.9 996.7,508.9 998.2,508.4 999.6,511.1 1001.1,504.2 1002.5,502.4 1004.0,511.0 1005.4,508.5 1006.9,508.3 1008.3,510.1 1009.8,510.3 1011.3,508.7 1012.7,505.6 1014.2,511.5 1015.6,510.0 1017.1,513.0 1018.5,507.5 1020.0,511.8 1021.4,514.9 1022.9,511.6 1024.3,509.9 1025.8,511.5 1027.2,510.7 1028.7,511.3 1030.2,515.2 1031.6,507.0 1033.1,513.6 1034.5,510.3 1036.0,505.6 1037.4,514.4 1038.9,510.7 1040.3,518.0 1041.8,509.7 1043.2,509.6 1044.7,511.2 1046.1,522.0 1047.6,516.2 1049.1,506.7 1050.5,509.7 1052.0,521.4 1053.4,506.0 1054.9,518.5 1056.3,512.3 1057.8,517.2 1059.2,515.2 1060.7,514.3 1062.1,511.0 1063.6,507.8 1065.0,513.4 1066.5,518.7 1068.0,510.6 1069.4,513.9 1070.9,507.5 1072.3,507.0 1073.8,514.5 1075.2,498.5 1076.7,511.4 1078.1,522.6 1079.6,512.6 1081.0,516.0 1082.5,504.2 1083.9,516.2 1085.4,507.0" fill="none" stroke="#d6f8f8" stroke-width="2.6" stroke-linejoin="round"/>
<polyline points="683.8,553.9 685.0,559.5 686.4,523.6 688.2,544.3 690.6,528.4 691.4,548.3 692.6,524.4 693.4,503.6 694.2,516.4 695.4,545.9 696.4,549.9 697.4,536.3 699.0,528.4 699.8,533.2 701.4,514.0 703.4,539.5 704.6,521.2 706.6,541.9 708.6,514.8 709.6,533.2 711.4,519.6 713.4,530.8 714.6,519.6 716.2,523.6 718.4,508.4 720.6,521.2 723.0,519.6 724.6,509.2 726.9,514.0 729.3,522.8 730.9,514.0 733.3,522.0 735.3,506.0 736.3,516.4 738.5,502.8 739.6,514.8 740.5,505.2 741.7,514.0 744.5,515.6 746.5,510.8 748.5,519.6 749.6,502.0 751.0,508.4 752.5,508.1 753.9,513.7 755.4,522.4 756.8,511.6 758.3,511.0 759.7,511.5 761.2,493.0 762.6,516.7 764.1,511.4 765.5,506.4 767.0,511.5 768.4,511.8 769.9,513.0 771.4,506.7 772.8,507.6 774.3,521.4 775.7,509.1 777.2,501.7 778.6,509.2 780.1,507.5 781.5,511.5 783.0,498.8 784.4,510.1 785.9,508.4 787.3,502.4 788.8,503.0 790.3,509.4 791.7,505.4 793.2,506.6 794.6,511.6 796.1,505.6 797.5,508.5 799.0,506.1 800.4,505.5 801.9,508.1 803.3,505.3 804.8,512.0 806.2,507.0 807.7,500.9 809.2,506.3 810.6,509.4 812.1,504.1 813.5,500.7 815.0,506.1 816.4,506.5 817.9,508.9 819.3,506.9 820.8,508.7 822.2,511.7 823.7,501.7 825.1,508.4 826.6,507.9 828.1,502.7 829.5,508.0 831.0,506.1 832.4,507.0 833.9,509.7 835.3,505.7 836.8,510.1 838.2,508.2 839.7,506.3 841.1,507.5 842.6,505.5 844.1,508.4 845.5,505.9 847.0,509.6 848.4,508.3 849.9,509.4 851.3,506.9 852.8,504.6 854.2,505.7 855.7,506.3 857.1,502.7 858.6,506.7 860.0,506.3 861.5,506.8 863.0,506.2 864.4,510.1 865.9,505.9 867.3,506.0 868.8,506.8 870.2,507.7 871.7,506.5 873.1,504.6 874.6,511.4 876.0,504.3 877.5,505.0 878.9,510.3 880.4,509.1 881.9,507.2 883.3,506.4 884.8,502.4 886.2,508.4 887.7,509.0 889.1,504.7 890.6,504.5 892.0,509.3 893.5,510.2 894.9,510.6 896.4,506.9 897.8,508.0 899.3,510.1 900.8,505.9 902.2,503.7 903.7,504.7 905.1,507.2 906.6,503.1 908.0,502.6 909.5,499.8 910.9,507.7 912.4,508.7 913.8,501.8 915.3,509.1 916.7,511.4 918.2,504.7 919.7,506.7 921.1,506.4 922.6,503.0 924.0,505.5 925.5,500.7 926.9,505.3 928.4,506.6 929.8,506.0 931.3,508.2 932.7,508.0 934.2,506.0 935.6,508.3 937.1,501.9 938.6,504.4 940.0,504.4 941.5,508.8 942.9,506.9 944.4,506.6 945.8,507.8 947.3,505.4 948.7,505.2 950.2,505.2 951.6,507.2 953.1,501.1 954.5,508.4 956.0,503.8 957.5,506.3 958.9,507.8 960.4,505.9 961.8,503.2 963.3,508.4 964.7,503.8 966.2,505.8 967.6,505.9 969.1,507.0 970.5,505.6 972.0,503.5 973.4,511.9 974.9,508.7 976.4,505.5 977.8,509.9 979.3,506.2 980.7,502.6 982.2,509.8 983.6,510.6 985.1,505.5 986.5,508.0 988.0,510.4 989.4,506.5 990.9,509.9 992.3,510.4 993.8,507.7 995.3,509.9 996.7,508.9 998.2,508.4 999.6,511.1 1001.1,504.2 1002.5,502.4 1004.0,511.0 1005.4,508.5 1006.9,508.3 1008.3,510.1 1009.8,510.3 1011.3,508.7 1012.7,505.6 1014.2,511.5 1015.6,510.0 1017.1,513.0 1018.5,507.5 1020.0,511.8 1021.4,514.9 1022.9,511.6 1024.3,509.9 1025.8,511.5 1027.2,510.7 1028.7,511.3 1030.2,515.2 1031.6,507.0 1033.1,513.6 1034.5,510.3 1036.0,505.6 1037.4,514.4 1038.9,510.7 1040.3,518.0 1041.8,509.7 1043.2,509.6 1044.7,511.2 1046.1,522.0 1047.6,516.2 1049.1,506.7 1050.5,509.7 1052.0,521.4 1053.4,506.0 1054.9,518.5 1056.3,512.3 1057.8,517.2 1059.2,515.2 1060.7,514.3 1062.1,511.0 1063.6,507.8 1065.0,513.4 1066.5,518.7 1068.0,510.6 1069.4,513.9 1070.9,507.5 1072.3,507.0 1073.8,514.5 1075.2,498.5 1076.7,511.4 1078.1,522.6 1079.6,512.6 1081.0,516.0 1082.5,504.2 1083.9,516.2 1085.4,507.0" fill="none" stroke="#30dcdc" stroke-width="1" stroke-linejoin="round" shape-rendering="crispEdges"/>
<path d="M734.5 561V493M811.5 558V493M887.5 560V493M964.5 557V493M1040.5 559V493M684 499.5H1086M686 523.5H1086M683 546.5H1086" stroke="#000" stroke-width="1" stroke-dasharray="1 4" fill="none" shape-rendering="crispEdges"/>
</g>
<g>
<path d="M156.5 690V758M156 757.5H559M156 697.5H161M156 726.5H161M156 756.5H161M206.5 758V752M282.5 758V752M359.5 758V752M435.5 758V752M512.5 758V752" stroke="#000" stroke-width="1" fill="none" shape-rendering="crispEdges"/>
<polyline points="156.8,719.0 157.6,708.6 158.4,697.4 159.0,734.9 159.6,728.6 160.8,756.8 162.0,738.1 163.6,723.0 165.6,707.0 166.8,718.2 169.2,721.4 170.4,724.6 173.2,709.4 175.2,716.6 177.6,708.6 179.4,700.6 180.8,723.0 182.4,711.8 184.8,718.2 186.4,700.6 188.4,707.8 190.4,699.8 192.0,710.2 193.6,719.0 195.2,711.0 197.2,695.0 199.9,707.8 201.1,697.4 202.3,708.6 203.9,697.4 207.1,710.2 208.7,691.8 209.9,707.8 212.3,696.6 214.7,713.4 217.1,690.2 217.9,695.8 219.9,699.0 222.7,703.0 224.0,701.4 225.5,701.2 226.9,695.5 228.4,694.7 229.8,696.2 231.3,698.4 232.7,694.4 234.2,706.0 235.6,704.1 237.1,696.7 238.5,696.6 240.0,696.8 241.4,699.3 242.9,699.2 244.4,698.3 245.8,697.2 247.3,699.2 248.7,703.0 250.2,696.6 251.6,702.2 253.1,701.9 254.5,695.0 256.0,691.0 257.4,701.2 258.9,697.1 260.3,697.4 261.8,699.5 263.3,700.9 264.7,698.6 266.2,702.9 267.6,701.2 269.1,701.4 270.5,698.9 272.0,699.1 273.4,698.9 274.9,697.6 276.3,695.8 277.8,698.8 279.2,697.7 280.7,700.3 282.2,694.1 283.6,698.0 285.1,698.5 286.5,694.7 288.0,696.8 289.4,693.4 290.9,694.0 292.3,696.9 293.8,694.0 295.2,696.5 296.7,696.3 298.1,695.7 299.6,695.9 301.1,693.1 302.5,695.4 304.0,695.8 305.4,698.3 306.9,694.9 308.3,696.4 309.8,696.5 311.2,694.4 312.7,698.1 314.1,697.2 315.6,695.4 317.1,695.1 318.5,697.1 320.0,698.4 321.4,696.1 322.9,697.7 324.3,696.9 325.8,696.2 327.2,694.0 328.7,696.2 330.1,694.6 331.6,696.2 333.0,694.9 334.5,695.0 336.0,693.7 337.4,693.5 338.9,696.1 340.3,695.5 341.8,694.2 343.2,695.3 344.7,694.3 346.1,696.3 347.6,694.6 349.0,697.5 350.5,695.3 351.9,695.0 353.4,698.7 354.9,696.1 356.3,695.8 357.8,697.2 359.2,694.7 360.7,693.0 362.1,693.7 363.6,696.2 365.0,697.2 366.5,696.1 367.9,694.1 369.4,692.9 370.8,696.6 372.3,698.0 373.8,696.1 375.2,696.2 376.7,691.7 378.1,695.7 379.6,695.0 381.0,695.1 382.5,693.3 383.9,693.8 385.4,691.5 386.8,695.2 388.3,696.0 389.7,697.5 391.2,692.3 392.7,698.3 394.1,696.4 395.6,696.3 397.0,694.5 398.5,696.0 399.9,697.3 401.4,694.7 402.8,696.3 404.3,695.0 405.7,695.8 407.2,696.0 408.6,696.3 410.1,698.3 411.6,696.6 413.0,695.7 414.5,699.7 415.9,697.3 417.4,694.7 418.8,696.1 420.3,698.7 421.7,696.4 423.2,696.8 424.6,692.0 426.1,696.4 427.5,693.9 429.0,695.6 430.5,696.7 431.9,696.1 433.4,696.0 434.8,694.5 436.3,695.5 437.7,690.4 439.2,696.8 440.6,694.8 442.1,697.5 443.5,695.4 445.0,700.6 446.4,692.2 447.9,695.5 449.4,699.1 450.8,701.3 452.3,697.7 453.7,692.7 455.2,693.3 456.6,692.1 458.1,697.2 459.5,699.4 461.0,695.1 462.4,696.2 463.9,698.3 465.3,696.6 466.8,695.2 468.3,693.6 469.7,696.9 471.2,697.3 472.6,697.3 474.1,694.6 475.5,698.6 477.0,695.6 478.4,694.2 479.9,694.5 481.3,699.3 482.8,697.1 484.3,698.5 485.7,699.6 487.2,698.4 488.6,697.0 490.1,693.4 491.5,693.6 493.0,694.8 494.4,696.9 495.9,694.8 497.3,697.2 498.8,695.8 500.2,693.2 501.7,695.3 503.2,696.2 504.6,694.6 506.1,699.2 507.5,699.6 509.0,692.8 510.4,693.9 511.9,698.0 513.3,698.7 514.8,696.2 516.2,697.3 517.7,694.1 519.1,705.0 520.6,700.7 522.1,704.0 523.5,700.5 525.0,697.7 526.4,702.4 527.9,695.0 529.3,701.8 530.8,694.9 532.2,702.0 533.7,701.6 535.1,701.2 536.6,699.6 538.0,700.7 539.5,701.4 541.0,703.6 542.4,702.8 543.9,702.2 545.3,702.8 546.8,695.3 548.2,703.5 549.7,700.4 551.1,702.2 552.6,703.4 554.0,702.5 555.5,702.0 556.9,704.3 558.4,706.7" fill="none" stroke="#d6f8f8" stroke-width="2.6" stroke-linejoin="round"/>
<polyline points="156.8,719.0 157.6,708.6 158.4,697.4 159.0,734.9 159.6,728.6 160.8,756.8 162.0,738.1 163.6,723.0 165.6,707.0 166.8,718.2 169.2,721.4 170.4,724.6 173.2,709.4 175.2,716.6 177.6,708.6 179.4,700.6 180.8,723.0 182.4,711.8 184.8,718.2 186.4,700.6 188.4,707.8 190.4,699.8 192.0,710.2 193.6,719.0 195.2,711.0 197.2,695.0 199.9,707.8 201.1,697.4 202.3,708.6 203.9,697.4 207.1,710.2 208.7,691.8 209.9,707.8 212.3,696.6 214.7,713.4 217.1,690.2 217.9,695.8 219.9,699.0 222.7,703.0 224.0,701.4 225.5,701.2 226.9,695.5 228.4,694.7 229.8,696.2 231.3,698.4 232.7,694.4 234.2,706.0 235.6,704.1 237.1,696.7 238.5,696.6 240.0,696.8 241.4,699.3 242.9,699.2 244.4,698.3 245.8,697.2 247.3,699.2 248.7,703.0 250.2,696.6 251.6,702.2 253.1,701.9 254.5,695.0 256.0,691.0 257.4,701.2 258.9,697.1 260.3,697.4 261.8,699.5 263.3,700.9 264.7,698.6 266.2,702.9 267.6,701.2 269.1,701.4 270.5,698.9 272.0,699.1 273.4,698.9 274.9,697.6 276.3,695.8 277.8,698.8 279.2,697.7 280.7,700.3 282.2,694.1 283.6,698.0 285.1,698.5 286.5,694.7 288.0,696.8 289.4,693.4 290.9,694.0 292.3,696.9 293.8,694.0 295.2,696.5 296.7,696.3 298.1,695.7 299.6,695.9 301.1,693.1 302.5,695.4 304.0,695.8 305.4,698.3 306.9,694.9 308.3,696.4 309.8,696.5 311.2,694.4 312.7,698.1 314.1,697.2 315.6,695.4 317.1,695.1 318.5,697.1 320.0,698.4 321.4,696.1 322.9,697.7 324.3,696.9 325.8,696.2 327.2,694.0 328.7,696.2 330.1,694.6 331.6,696.2 333.0,694.9 334.5,695.0 336.0,693.7 337.4,693.5 338.9,696.1 340.3,695.5 341.8,694.2 343.2,695.3 344.7,694.3 346.1,696.3 347.6,694.6 349.0,697.5 350.5,695.3 351.9,695.0 353.4,698.7 354.9,696.1 356.3,695.8 357.8,697.2 359.2,694.7 360.7,693.0 362.1,693.7 363.6,696.2 365.0,697.2 366.5,696.1 367.9,694.1 369.4,692.9 370.8,696.6 372.3,698.0 373.8,696.1 375.2,696.2 376.7,691.7 378.1,695.7 379.6,695.0 381.0,695.1 382.5,693.3 383.9,693.8 385.4,691.5 386.8,695.2 388.3,696.0 389.7,697.5 391.2,692.3 392.7,698.3 394.1,696.4 395.6,696.3 397.0,694.5 398.5,696.0 399.9,697.3 401.4,694.7 402.8,696.3 404.3,695.0 405.7,695.8 407.2,696.0 408.6,696.3 410.1,698.3 411.6,696.6 413.0,695.7 414.5,699.7 415.9,697.3 417.4,694.7 418.8,696.1 420.3,698.7 421.7,696.4 423.2,696.8 424.6,692.0 426.1,696.4 427.5,693.9 429.0,695.6 430.5,696.7 431.9,696.1 433.4,696.0 434.8,694.5 436.3,695.5 437.7,690.4 439.2,696.8 440.6,694.8 442.1,697.5 443.5,695.4 445.0,700.6 446.4,692.2 447.9,695.5 449.4,699.1 450.8,701.3 452.3,697.7 453.7,692.7 455.2,693.3 456.6,692.1 458.1,697.2 459.5,699.4 461.0,695.1 462.4,696.2 463.9,698.3 465.3,696.6 466.8,695.2 468.3,693.6 469.7,696.9 471.2,697.3 472.6,697.3 474.1,694.6 475.5,698.6 477.0,695.6 478.4,694.2 479.9,694.5 481.3,699.3 482.8,697.1 484.3,698.5 485.7,699.6 487.2,698.4 488.6,697.0 490.1,693.4 491.5,693.6 493.0,694.8 494.4,696.9 495.9,694.8 497.3,697.2 498.8,695.8 500.2,693.2 501.7,695.3 503.2,696.2 504.6,694.6 506.1,699.2 507.5,699.6 509.0,692.8 510.4,693.9 511.9,698.0 513.3,698.7 514.8,696.2 516.2,697.3 517.7,694.1 519.1,705.0 520.6,700.7 522.1,704.0 523.5,700.5 525.0,697.7 526.4,702.4 527.9,695.0 529.3,701.8 530.8,694.9 532.2,702.0 533.7,701.6 535.1,701.2 536.6,699.6 538.0,700.7 539.5,701.4 541.0,703.6 542.4,702.8 543.9,702.2 545.3,702.8 546.8,695.3 548.2,703.5 549.7,700.4 551.1,702.2 552.6,703.4 554.0,702.5 555.5,702.0 556.9,704.3 558.4,706.7" fill="none" stroke="#30dcdc" stroke-width="1" stroke-linejoin="round" shape-rendering="crispEdges"/>
<path d="M206.5 758V690M282.5 755V690M359.5 757V690M435.5 754V690M512.5 756V690M157 697.5H559M159 726.5H559M156 756.5H559" stroke="#000" stroke-width="1" stroke-dasharray="1 4" fill="none" shape-rendering="crispEdges"/>
</g>
<g>
<path d="M683.5 690V758M683 757.5H1086M683 692.5H690M683 714.5H690M683 736.5H690M734.5 758V752M811.5 758V752M887.5 758V752M964.5 758V752M1040.5 758V752" stroke="#000" stroke-width="1" fill="none" shape-rendering="crispEdges"/>
<polyline points="683.8,714.2 685.0,731.7 686.4,754.9 687.8,738.1 689.0,747.7 690.4,756.8 691.8,742.9 692.8,741.3 693.8,722.2 695.4,692.6 696.6,741.3 698.2,744.5 699.8,725.4 701.8,719.0 703.4,703.0 705.4,711.0 707.4,733.3 709.4,726.2 711.8,715.0 714.6,708.6 715.5,730.2 717.4,719.0 718.6,703.0 719.4,724.6 720.6,707.0 723.4,720.6 725.3,708.6 726.9,715.8 729.7,709.4 732.9,722.2 734.1,713.4 736.1,712.6 738.1,720.6 739.7,707.0 741.7,702.2 742.9,713.4 744.5,701.4 745.7,714.2 747.3,705.4 749.3,720.6 750.5,695.8 752.0,691.8 753.4,705.8 754.9,701.6 756.3,715.5 757.8,708.8 759.3,705.8 760.7,700.7 762.2,696.7 763.6,712.6 765.1,700.9 766.5,711.4 768.0,710.8 769.4,718.5 770.9,707.8 772.4,704.4 773.8,710.3 775.3,706.9 776.7,708.1 778.2,707.6 779.6,705.5 781.1,700.8 782.6,694.5 784.0,700.2 785.5,697.6 786.9,699.0 788.4,701.4 789.8,699.2 791.3,705.3 792.7,695.5 794.2,700.3 795.7,694.8 797.1,705.4 798.6,695.2 800.0,700.1 801.5,694.0 802.9,696.5 804.4,694.7 805.8,692.2 807.3,695.7 808.8,697.3 810.2,696.3 811.7,702.3 813.1,698.8 814.6,700.5 816.0,702.7 817.5,700.1 819.0,696.1 820.4,704.1 821.9,694.9 823.3,699.2 824.8,691.6 826.2,697.2 827.7,703.6 829.1,695.2 830.6,703.8 832.1,702.0 833.5,698.3 835.0,699.8 836.4,700.0 837.9,698.7 839.3,690.0 840.8,700.4 842.2,698.7 843.7,705.7 845.2,692.6 846.6,697.0 848.1,700.6 849.5,702.3 851.0,695.9 852.4,700.6 853.9,702.3 855.4,698.3 856.8,696.2 858.3,693.7 859.7,699.5 861.2,699.8 862.6,698.8 864.1,703.3 865.5,693.0 867.0,704.4 868.5,696.6 869.9,691.9 871.4,695.1 872.8,696.0 874.3,694.6 875.7,689.2 877.2,694.2 878.6,701.3 880.1,697.3 881.6,702.8 883.0,697.1 884.5,701.8 885.9,697.8 887.4,693.5 888.8,700.7 890.3,696.6 891.8,698.1 893.2,699.4 894.7,697.2 896.1,698.7 897.6,695.2 899.0,693.2 900.5,697.2 901.9,697.3 903.4,699.5 904.9,694.4 906.3,694.4 907.8,691.1 909.2,698.2 910.7,695.8 912.1,700.5 913.6,699.2 915.0,698.9 916.5,689.2 918.0,698.2 919.4,691.2 920.9,694.2 922.3,695.0 923.8,700.4 925.2,693.8 926.7,696.1 928.2,698.1 929.6,698.3 931.1,695.7 932.5,695.4 934.0,704.6 935.4,693.7 936.9,694.6 938.3,694.6 939.8,698.2 941.3,697.3 942.7,695.8 944.2,689.0 945.6,701.6 947.1,699.4 948.5,698.7 950.0,694.1 951.4,696.6 952.9,698.6 954.4,697.3 955.8,703.3 957.3,699.1 958.7,695.7 960.2,700.7 961.6,697.6 963.1,695.3 964.6,697.1 966.0,700.0 967.5,701.6 968.9,702.1 970.4,701.0 971.8,701.5 973.3,698.2 974.7,700.1 976.2,701.4 977.7,696.6 979.1,698.7 980.6,697.5 982.0,696.5 983.5,693.2 984.9,697.9 986.4,702.5 987.8,697.2 989.3,696.3 990.8,699.4 992.2,698.7 993.7,699.6 995.1,701.9 996.6,697.7 998.0,702.4 999.5,696.9 1001.0,699.2 1002.4,700.9 1003.9,701.0 1005.3,702.9 1006.8,700.2 1008.2,697.0 1009.7,695.3 1011.1,701.7 1012.6,695.0 1014.1,696.7 1015.5,699.5 1017.0,697.9 1018.4,693.2 1019.9,701.7 1021.3,698.9 1022.8,698.7 1024.2,701.4 1025.7,701.3 1027.2,704.1 1028.6,701.9 1030.1,700.4 1031.5,703.7 1033.0,701.2 1034.4,694.4 1035.9,700.1 1037.4,697.0 1038.8,699.0 1040.3,692.5 1041.7,698.4 1043.2,699.0 1044.6,698.5 1046.1,698.6 1047.5,706.0 1049.0,700.7 1050.5,692.8 1051.9,709.8 1053.4,707.1 1054.8,704.9 1056.3,700.5 1057.7,700.7 1059.2,704.1 1060.6,704.7 1062.1,715.5 1063.6,707.4 1065.0,698.4 1066.5,706.2 1067.9,703.7 1069.4,700.3 1070.8,705.7 1072.3,706.5 1073.8,710.9 1075.2,694.1 1076.7,694.7 1078.1,693.1 1079.6,690.5 1081.0,711.3 1082.5,701.2 1083.9,693.5 1085.4,701.5" fill="none" stroke="#d6f8f8" stroke-width="2.6" stroke-linejoin="round"/>
<polyline points="683.8,714.2 685.0,731.7 686.4,754.9 687.8,738.1 689.0,747.7 690.4,756.8 691.8,742.9 692.8,741.3 693.8,722.2 695.4,692.6 696.6,741.3 698.2,744.5 699.8,725.4 701.8,719.0 703.4,703.0 705.4,711.0 707.4,733.3 709.4,726.2 711.8,715.0 714.6,708.6 715.5,730.2 717.4,719.0 718.6,703.0 719.4,724.6 720.6,707.0 723.4,720.6 725.3,708.6 726.9,715.8 729.7,709.4 732.9,722.2 734.1,713.4 736.1,712.6 738.1,720.6 739.7,707.0 741.7,702.2 742.9,713.4 744.5,701.4 745.7,714.2 747.3,705.4 749.3,720.6 750.5,695.8 752.0,691.8 753.4,705.8 754.9,701.6 756.3,715.5 757.8,708.8 759.3,705.8 760.7,700.7 762.2,696.7 763.6,712.6 765.1,700.9 766.5,711.4 768.0,710.8 769.4,718.5 770.9,707.8 772.4,704.4 773.8,710.3 775.3,706.9 776.7,708.1 778.2,707.6 779.6,705.5 781.1,700.8 782.6,694.5 784.0,700.2 785.5,697.6 786.9,699.0 788.4,701.4 789.8,699.2 791.3,705.3 792.7,695.5 794.2,700.3 795.7,694.8 797.1,705.4 798.6,695.2 800.0,700.1 801.5,694.0 802.9,696.5 804.4,694.7 805.8,692.2 807.3,695.7 808.8,697.3 810.2,696.3 811.7,702.3 813.1,698.8 814.6,700.5 816.0,702.7 817.5,700.1 819.0,696.1 820.4,704.1 821.9,694.9 823.3,699.2 824.8,691.6 826.2,697.2 827.7,703.6 829.1,695.2 830.6,703.8 832.1,702.0 833.5,698.3 835.0,699.8 836.4,700.0 837.9,698.7 839.3,690.0 840.8,700.4 842.2,698.7 843.7,705.7 845.2,692.6 846.6,697.0 848.1,700.6 849.5,702.3 851.0,695.9 852.4,700.6 853.9,702.3 855.4,698.3 856.8,696.2 858.3,693.7 859.7,699.5 861.2,699.8 862.6,698.8 864.1,703.3 865.5,693.0 867.0,704.4 868.5,696.6 869.9,691.9 871.4,695.1 872.8,696.0 874.3,694.6 875.7,689.2 877.2,694.2 878.6,701.3 880.1,697.3 881.6,702.8 883.0,697.1 884.5,701.8 885.9,697.8 887.4,693.5 888.8,700.7 890.3,696.6 891.8,698.1 893.2,699.4 894.7,697.2 896.1,698.7 897.6,695.2 899.0,693.2 900.5,697.2 901.9,697.3 903.4,699.5 904.9,694.4 906.3,694.4 907.8,691.1 909.2,698.2 910.7,695.8 912.1,700.5 913.6,699.2 915.0,698.9 916.5,689.2 918.0,698.2 919.4,691.2 920.9,694.2 922.3,695.0 923.8,700.4 925.2,693.8 926.7,696.1 928.2,698.1 929.6,698.3 931.1,695.7 932.5,695.4 934.0,704.6 935.4,693.7 936.9,694.6 938.3,694.6 939.8,698.2 941.3,697.3 942.7,695.8 944.2,689.0 945.6,701.6 947.1,699.4 948.5,698.7 950.0,694.1 951.4,696.6 952.9,698.6 954.4,697.3 955.8,703.3 957.3,699.1 958.7,695.7 960.2,700.7 961.6,697.6 963.1,695.3 964.6,697.1 966.0,700.0 967.5,701.6 968.9,702.1 970.4,701.0 971.8,701.5 973.3,698.2 974.7,700.1 976.2,701.4 977.7,696.6 979.1,698.7 980.6,697.5 982.0,696.5 983.5,693.2 984.9,697.9 986.4,702.5 987.8,697.2 989.3,696.3 990.8,699.4 992.2,698.7 993.7,699.6 995.1,701.9 996.6,697.7 998.0,702.4 999.5,696.9 1001.0,699.2 1002.4,700.9 1003.9,701.0 1005.3,702.9 1006.8,700.2 1008.2,697.0 1009.7,695.3 1011.1,701.7 1012.6,695.0 1014.1,696.7 1015.5,699.5 1017.0,697.9 1018.4,693.2 1019.9,701.7 1021.3,698.9 1022.8,698.7 1024.2,701.4 1025.7,701.3 1027.2,704.1 1028.6,701.9 1030.1,700.4 1031.5,703.7 1033.0,701.2 1034.4,694.4 1035.9,700.1 1037.4,697.0 1038.8,699.0 1040.3,692.5 1041.7,698.4 1043.2,699.0 1044.6,698.5 1046.1,698.6 1047.5,706.0 1049.0,700.7 1050.5,692.8 1051.9,709.8 1053.4,707.1 1054.8,704.9 1056.3,700.5 1057.7,700.7 1059.2,704.1 1060.6,704.7 1062.1,715.5 1063.6,707.4 1065.0,698.4 1066.5,706.2 1067.9,703.7 1069.4,700.3 1070.8,705.7 1072.3,706.5 1073.8,710.9 1075.2,694.1 1076.7,694.7 1078.1,693.1 1079.6,690.5 1081.0,711.3 1082.5,701.2 1083.9,693.5 1085.4,701.5" fill="none" stroke="#30dcdc" stroke-width="1" stroke-linejoin="round" shape-rendering="crispEdges"/>
<path d="M734.5 758V690M811.5 755V690M887.5 757V690M964.5 754V690M1040.5 756V690M684 692.5H1086M686 714.5H1086M683 736.5H1086" stroke="#000" stroke-width="1" stroke-dasharray="1 4" fill="none" shape-rendering="crispEdges"/>
</g>
<g style="filter:grayscale(1)">
<g transform="translate(150.30 115.90) scale(0.8850 1.0000)"><text x="-13.90">0</text></g>
<g transform="translate(150.30 130.90) scale(0.8850 1.0000)"><text x="-23.18 -13.90">-2</text></g>
<g transform="translate(150.30 146.90) scale(0.8850 1.0000)"><text x="-23.18 -13.90">-4</text></g>
<g transform="translate(150.30 162.90) scale(0.8850 1.0000)"><text x="-23.18 -13.90">-6</text></g>
<g transform="translate(206.40 201.20) scale(0.8850 1.0000)"><text x="-29.53 -14.48 0.57 15.63">3065</text></g>
<g transform="translate(282.40 201.20) scale(0.8850 1.0000)"><text x="-29.53 -14.48 0.57 15.63">3070</text></g>
<g transform="translate(358.90 201.20) scale(0.8850 1.0000)"><text x="-29.53 -14.48 0.57 15.63">3075</text></g>
<g transform="translate(435.40 201.20) scale(0.8850 1.0000)"><text x="-29.53 -14.48 0.57 15.63">3080</text></g>
<g transform="translate(511.90 201.20) scale(0.8850 1.0000)"><text x="-29.53 -14.48 0.57 15.63">3085</text></g>
<g transform="translate(156.50 89.70) scale(0.9100 1.0000)"><text x="0.00 12.50 19.45 33.35">x  0</text><path d="M515 0V1237L197 1010V1180L530 1409H696V0Z" transform="translate(19.45 0) scale(0.01221 -0.01221)"/></g>
<g transform="translate(199.50 71.80) scale(0.8600 1.0000)"><text x="0.00 5.49" style="font-size:16.5px">-3</text></g>
<g transform="translate(356.30 77.60) scale(0.9327 1.0000)"><text x="-29.63 -12.29 -6.51 7.95 15.17" style="font-size:26px">Bin  </text><path d="M515 0V1237L197 1010V1180L530 1409H696V0Z" transform="translate(15.17 0) scale(0.01270 -0.01270)"/></g>
<g transform="translate(249.50 238.50) scale(0.9317 1.0000)"><text x="0.00 24.54 39.00 52.00 66.46 80.92 95.38 117.04 131.50 145.96 154.62 161.84 169.06 182.06" style="font-size:26px">Wavenumber [cm</text></g>
<g transform="translate(439.00 226.30) scale(1.0800 1.0000)"><text x="0.00 5.66" style="font-size:17px">- </text><path d="M515 0V1237L197 1010V1180L530 1409H696V0Z" transform="translate(5.66 0) scale(0.00830 -0.00830)"/></g>
<g transform="translate(455.10 238.50) scale(0.9183 1.0000)"><text x="0.00" style="font-size:26px">]</text></g>
<g transform="translate(114.50 228.20) rotate(-90) scale(0.9615 1.0000)"><text x="0.00" style="font-size:26px">T</text></g>
<g transform="translate(114.50 212.30) rotate(-90) scale(0.9538 1.0000)"><text x="0.00 8.66 23.12 37.58 50.58 72.24 78.01 85.24 92.46 106.92 121.38 134.38" style="font-size:26px">ransmittance</text></g>
<g transform="translate(114.50 64.50) rotate(-90) scale(0.9087 1.0000)"><text x="0.00 7.22 21.68" style="font-size:26px">[ ]</text><path d="M515 0V1237L197 1010V1180L530 1409H696V0Z" transform="translate(7.22 0) scale(0.01270 -0.01270)"/></g>
<g transform="translate(677.30 116.90) scale(0.8850 1.0000)"><text x="-13.90">0</text></g>
<g transform="translate(677.30 140.40) scale(0.8850 1.0000)"><text x="-23.18 -13.90">- </text><path d="M515 0V1237L197 1010V1180L530 1409H696V0Z" transform="translate(-13.90 0) scale(0.01221 -0.01221)"/></g>
<g transform="translate(677.30 164.40) scale(0.8850 1.0000)"><text x="-23.18 -13.90">-2</text></g>
<g transform="translate(734.40 201.20) scale(0.8850 1.0000)"><text x="-29.53 -14.48 0.57 15.63">3065</text></g>
<g transform="translate(811.40 201.20) scale(0.8850 1.0000)"><text x="-29.53 -14.48 0.57 15.63">3070</text></g>
<g transform="translate(887.40 201.20) scale(0.8850 1.0000)"><text x="-29.53 -14.48 0.57 15.63">3075</text></g>
<g transform="translate(964.40 201.20) scale(0.8850 1.0000)"><text x="-29.53 -14.48 0.57 15.63">3080</text></g>
<g transform="translate(1040.40 201.20) scale(0.8850 1.0000)"><text x="-29.53 -14.48 0.57 15.63">3085</text></g>
<g transform="translate(683.50 89.70) scale(0.9100 1.0000)"><text x="0.00 12.50 19.45 33.35">x  0</text><path d="M515 0V1237L197 1010V1180L530 1409H696V0Z" transform="translate(19.45 0) scale(0.01221 -0.01221)"/></g>
<g transform="translate(726.50 71.80) scale(0.8600 1.0000)"><text x="0.00 5.49" style="font-size:16.5px">-3</text></g>
<g transform="translate(883.30 77.60) scale(0.9327 1.0000)"><text x="-29.63 -12.29 -6.51 7.95 15.17" style="font-size:26px">Bin 2</text></g>
<g transform="translate(776.50 238.50) scale(0.9317 1.0000)"><text x="0.00 24.54 39.00 52.00 66.46 80.92 95.38 117.04 131.50 145.96 154.62 161.84 169.06 182.06" style="font-size:26px">Wavenumber [cm</text></g>
<g transform="translate(966.00 226.30) scale(1.0800 1.0000)"><text x="0.00 5.66" style="font-size:17px">- </text><path d="M515 0V1237L197 1010V1180L530 1409H696V0Z" transform="translate(5.66 0) scale(0.00830 -0.00830)"/></g>
<g transform="translate(982.10 238.50) scale(0.9183 1.0000)"><text x="0.00" style="font-size:26px">]</text></g>
<g transform="translate(641.50 228.20) rotate(-90) scale(0.9615 1.0000)"><text x="0.00" style="font-size:26px">T</text></g>
<g transform="translate(641.50 212.30) rotate(-90) scale(0.9538 1.0000)"><text x="0.00 8.66 23.12 37.58 50.58 72.24 78.01 85.24 92.46 106.92 121.38 134.38" style="font-size:26px">ransmittance</text></g>
<g transform="translate(641.50 64.50) rotate(-90) scale(0.9087 1.0000)"><text x="0.00 7.22 21.68" style="font-size:26px">[ ]</text><path d="M515 0V1237L197 1010V1180L530 1409H696V0Z" transform="translate(7.22 0) scale(0.01270 -0.01270)"/></g>
<g transform="translate(150.30 320.90) scale(0.8850 1.0000)"><text x="-13.90">5</text></g>
<g transform="translate(150.30 337.40) scale(0.8850 1.0000)"><text x="-13.90">0</text></g>
<g transform="translate(150.30 354.40) scale(0.8850 1.0000)"><text x="-23.18 -13.90">-5</text></g>
<g transform="translate(150.30 371.40) scale(0.8850 1.0000)"><text x="-38.03 -28.76 -13.90">- 0</text><path d="M515 0V1237L197 1010V1180L530 1409H696V0Z" transform="translate(-28.76 0) scale(0.01221 -0.01221)"/></g>
<g transform="translate(206.40 399.20) scale(0.8850 1.0000)"><text x="-29.53 -14.48 0.57 15.63">3065</text></g>
<g transform="translate(282.40 399.20) scale(0.8850 1.0000)"><text x="-29.53 -14.48 0.57 15.63">3070</text></g>
<g transform="translate(358.90 399.20) scale(0.8850 1.0000)"><text x="-29.53 -14.48 0.57 15.63">3075</text></g>
<g transform="translate(435.40 399.20) scale(0.8850 1.0000)"><text x="-29.53 -14.48 0.57 15.63">3080</text></g>
<g transform="translate(511.90 399.20) scale(0.8850 1.0000)"><text x="-29.53 -14.48 0.57 15.63">3085</text></g>
<g transform="translate(156.50 286.70) scale(0.9100 1.0000)"><text x="0.00 12.50 19.45 33.35">x  0</text><path d="M515 0V1237L197 1010V1180L530 1409H696V0Z" transform="translate(19.45 0) scale(0.01221 -0.01221)"/></g>
<g transform="translate(199.50 268.80) scale(0.8600 1.0000)"><text x="0.00 5.49" style="font-size:16.5px">-4</text></g>
<g transform="translate(356.30 274.60) scale(0.9327 1.0000)"><text x="-29.63 -12.29 -6.51 7.95 15.17" style="font-size:26px">Bin 3</text></g>
<g transform="translate(249.50 436.50) scale(0.9317 1.0000)"><text x="0.00 24.54 39.00 52.00 66.46 80.92 95.38 117.04 131.50 145.96 154.62 161.84 169.06 182.06" style="font-size:26px">Wavenumber [cm</text></g>
<g transform="translate(439.00 424.30) scale(1.0800 1.0000)"><text x="0.00 5.66" style="font-size:17px">- </text><path d="M515 0V1237L197 1010V1180L530 1409H696V0Z" transform="translate(5.66 0) scale(0.00830 -0.00830)"/></g>
<g transform="translate(455.10 436.50) scale(0.9183 1.0000)"><text x="0.00" style="font-size:26px">]</text></g>
<g transform="translate(101.50 425.70) rotate(-90) scale(0.9615 1.0000)"><text x="0.00" style="font-size:26px">T</text></g>
<g transform="translate(101.50 409.80) rotate(-90) scale(0.9538 1.0000)"><text x="0.00 8.66 23.12 37.58 50.58 72.24 78.01 85.24 92.46 106.92 121.38 134.38" style="font-size:26px">ransmittance</text></g>
<g transform="translate(101.50 262.00) rotate(-90) scale(0.9087 1.0000)"><text x="0.00 7.22 21.68" style="font-size:26px">[ ]</text><path d="M515 0V1237L197 1010V1180L530 1409H696V0Z" transform="translate(7.22 0) scale(0.01270 -0.01270)"/></g>
<g transform="translate(677.30 310.90) scale(0.8850 1.0000)"><text x="-28.76 -13.90"> 5</text><path d="M515 0V1237L197 1010V1180L530 1409H696V0Z" transform="translate(-28.76 0) scale(0.01221 -0.01221)"/></g>
<g transform="translate(677.30 328.90) scale(0.8850 1.0000)"><text x="-28.76 -13.90"> 0</text><path d="M515 0V1237L197 1010V1180L530 1409H696V0Z" transform="translate(-28.76 0) scale(0.01221 -0.01221)"/></g>
<g transform="translate(677.30 345.90) scale(0.8850 1.0000)"><text x="-13.90">5</text></g>
<g transform="translate(677.30 363.90) scale(0.8850 1.0000)"><text x="-13.90">0</text></g>
<g transform="translate(734.40 399.20) scale(0.8850 1.0000)"><text x="-29.53 -14.48 0.57 15.63">3065</text></g>
<g transform="translate(811.40 399.20) scale(0.8850 1.0000)"><text x="-29.53 -14.48 0.57 15.63">3070</text></g>
<g transform="translate(887.40 399.20) scale(0.8850 1.0000)"><text x="-29.53 -14.48 0.57 15.63">3075</text></g>
<g transform="translate(964.40 399.20) scale(0.8850 1.0000)"><text x="-29.53 -14.48 0.57 15.63">3080</text></g>
<g transform="translate(1040.40 399.20) scale(0.8850 1.0000)"><text x="-29.53 -14.48 0.57 15.63">3085</text></g>
<g transform="translate(683.50 286.70) scale(0.9100 1.0000)"><text x="0.00 12.50 19.45 33.35">x  0</text><path d="M515 0V1237L197 1010V1180L530 1409H696V0Z" transform="translate(19.45 0) scale(0.01221 -0.01221)"/></g>
<g transform="translate(726.50 268.80) scale(0.8600 1.0000)"><text x="0.00 5.49" style="font-size:16.5px">-4</text></g>
<g transform="translate(883.30 274.60) scale(0.9327 1.0000)"><text x="-29.63 -12.29 -6.51 7.95 15.17" style="font-size:26px">Bin 4</text></g>
<g transform="translate(776.50 436.50) scale(0.9317 1.0000)"><text x="0.00 24.54 39.00 52.00 66.46 80.92 95.38 117.04 131.50 145.96 154.62 161.84 169.06 182.06" style="font-size:26px">Wavenumber [cm</text></g>
<g transform="translate(966.00 424.30) scale(1.0800 1.0000)"><text x="0.00 5.66" style="font-size:17px">- </text><path d="M515 0V1237L197 1010V1180L530 1409H696V0Z" transform="translate(5.66 0) scale(0.00830 -0.00830)"/></g>
<g transform="translate(982.10 436.50) scale(0.9183 1.0000)"><text x="0.00" style="font-size:26px">]</text></g>
<g transform="translate(641.50 425.70) rotate(-90) scale(0.9615 1.0000)"><text x="0.00" style="font-size:26px">T</text></g>
<g transform="translate(641.50 409.80) rotate(-90) scale(0.9538 1.0000)"><text x="0.00 8.66 23.12 37.58 50.58 72.24 78.01 85.24 92.46 106.92 121.38 134.38" style="font-size:26px">ransmittance</text></g>
<g transform="translate(641.50 262.00) rotate(-90) scale(0.9087 1.0000)"><text x="0.00 7.22 21.68" style="font-size:26px">[ ]</text><path d="M515 0V1237L197 1010V1180L530 1409H696V0Z" transform="translate(7.22 0) scale(0.01270 -0.01270)"/></g>
<g transform="translate(150.30 507.90) scale(0.8850 1.0000)"><text x="-28.76 -13.90"> 5</text><path d="M515 0V1237L197 1010V1180L530 1409H696V0Z" transform="translate(-28.76 0) scale(0.01221 -0.01221)"/></g>
<g transform="translate(150.30 526.90) scale(0.8850 1.0000)"><text x="-28.76 -13.90"> 0</text><path d="M515 0V1237L197 1010V1180L530 1409H696V0Z" transform="translate(-28.76 0) scale(0.01221 -0.01221)"/></g>
<g transform="translate(150.30 546.40) scale(0.8850 1.0000)"><text x="-13.90">5</text></g>
<g transform="translate(150.30 566.90) scale(0.8850 1.0000)"><text x="-13.90">0</text></g>
<g transform="translate(206.40 596.20) scale(0.8850 1.0000)"><text x="-29.53 -14.48 0.57 15.63">3065</text></g>
<g transform="translate(282.40 596.20) scale(0.8850 1.0000)"><text x="-29.53 -14.48 0.57 15.63">3070</text></g>
<g transform="translate(358.90 596.20) scale(0.8850 1.0000)"><text x="-29.53 -14.48 0.57 15.63">3075</text></g>
<g transform="translate(435.40 596.20) scale(0.8850 1.0000)"><text x="-29.53 -14.48 0.57 15.63">3080</text></g>
<g transform="translate(511.90 596.20) scale(0.8850 1.0000)"><text x="-29.53 -14.48 0.57 15.63">3085</text></g>
<g transform="translate(156.50 484.70) scale(0.9100 1.0000)"><text x="0.00 12.50 19.45 33.35">x  0</text><path d="M515 0V1237L197 1010V1180L530 1409H696V0Z" transform="translate(19.45 0) scale(0.01221 -0.01221)"/></g>
<g transform="translate(199.50 466.80) scale(0.8600 1.0000)"><text x="0.00 5.49" style="font-size:16.5px">-4</text></g>
<g transform="translate(356.30 472.60) scale(0.9327 1.0000)"><text x="-29.63 -12.29 -6.51 7.95 15.17" style="font-size:26px">Bin 5</text></g>
<g transform="translate(249.50 633.50) scale(0.9317 1.0000)"><text x="0.00 24.54 39.00 52.00 66.46 80.92 95.38 117.04 131.50 145.96 154.62 161.84 169.06 182.06" style="font-size:26px">Wavenumber [cm</text></g>
<g transform="translate(439.00 621.30) scale(1.0800 1.0000)"><text x="0.00 5.66" style="font-size:17px">- </text><path d="M515 0V1237L197 1010V1180L530 1409H696V0Z" transform="translate(5.66 0) scale(0.00830 -0.00830)"/></g>
<g transform="translate(455.10 633.50) scale(0.9183 1.0000)"><text x="0.00" style="font-size:26px">]</text></g>
<g transform="translate(109.50 623.20) rotate(-90) scale(0.9615 1.0000)"><text x="0.00" style="font-size:26px">T</text></g>
<g transform="translate(109.50 607.30) rotate(-90) scale(0.9538 1.0000)"><text x="0.00 8.66 23.12 37.58 50.58 72.24 78.01 85.24 92.46 106.92 121.38 134.38" style="font-size:26px">ransmittance</text></g>
<g transform="translate(109.50 459.50) rotate(-90) scale(0.9087 1.0000)"><text x="0.00 7.22 21.68" style="font-size:26px">[ ]</text><path d="M515 0V1237L197 1010V1180L530 1409H696V0Z" transform="translate(7.22 0) scale(0.01270 -0.01270)"/></g>
<g transform="translate(677.30 510.90) scale(0.8850 1.0000)"><path d="M515 0V1237L197 1010V1180L530 1409H696V0Z" transform="translate(-13.90 0) scale(0.01221 -0.01221)"/></g>
<g transform="translate(677.30 534.90) scale(0.8850 1.0000)"><text x="-13.90">0</text></g>
<g transform="translate(677.30 557.90) scale(0.8850 1.0000)"><text x="-23.18 -13.90">- </text><path d="M515 0V1237L197 1010V1180L530 1409H696V0Z" transform="translate(-13.90 0) scale(0.01221 -0.01221)"/></g>
<g transform="translate(734.40 596.20) scale(0.8850 1.0000)"><text x="-29.53 -14.48 0.57 15.63">3065</text></g>
<g transform="translate(811.40 596.20) scale(0.8850 1.0000)"><text x="-29.53 -14.48 0.57 15.63">3070</text></g>
<g transform="translate(887.40 596.20) scale(0.8850 1.0000)"><text x="-29.53 -14.48 0.57 15.63">3075</text></g>
<g transform="translate(964.40 596.20) scale(0.8850 1.0000)"><text x="-29.53 -14.48 0.57 15.63">3080</text></g>
<g transform="translate(1040.40 596.20) scale(0.8850 1.0000)"><text x="-29.53 -14.48 0.57 15.63">3085</text></g>
<g transform="translate(683.50 484.70) scale(0.9100 1.0000)"><text x="0.00 12.50 19.45 33.35">x  0</text><path d="M515 0V1237L197 1010V1180L530 1409H696V0Z" transform="translate(19.45 0) scale(0.01221 -0.01221)"/></g>
<g transform="translate(726.50 466.80) scale(0.8600 1.0000)"><text x="0.00 5.49" style="font-size:16.5px">-3</text></g>
<g transform="translate(883.30 472.60) scale(0.9327 1.0000)"><text x="-29.63 -12.29 -6.51 7.95 15.17" style="font-size:26px">Bin 6</text></g>
<g transform="translate(776.50 633.50) scale(0.9317 1.0000)"><text x="0.00 24.54 39.00 52.00 66.46 80.92 95.38 117.04 131.50 145.96 154.62 161.84 169.06 182.06" style="font-size:26px">Wavenumber [cm</text></g>
<g transform="translate(966.00 621.30) scale(1.0800 1.0000)"><text x="0.00 5.66" style="font-size:17px">- </text><path d="M515 0V1237L197 1010V1180L530 1409H696V0Z" transform="translate(5.66 0) scale(0.00830 -0.00830)"/></g>
<g transform="translate(982.10 633.50) scale(0.9183 1.0000)"><text x="0.00" style="font-size:26px">]</text></g>
<g transform="translate(641.50 623.20) rotate(-90) scale(0.9615 1.0000)"><text x="0.00" style="font-size:26px">T</text></g>
<g transform="translate(641.50 607.30) rotate(-90) scale(0.9538 1.0000)"><text x="0.00 8.66 23.12 37.58 50.58 72.24 78.01 85.24 92.46 106.92 121.38 134.38" style="font-size:26px">ransmittance</text></g>
<g transform="translate(641.50 459.50) rotate(-90) scale(0.9087 1.0000)"><text x="0.00 7.22 21.68" style="font-size:26px">[ ]</text><path d="M515 0V1237L197 1010V1180L530 1409H696V0Z" transform="translate(7.22 0) scale(0.01270 -0.01270)"/></g>
<g transform="translate(150.30 708.90) scale(0.8850 1.0000)"><text x="-13.90">0</text></g>
<g transform="translate(150.30 737.90) scale(0.8850 1.0000)"><text x="-23.18 -13.90">-2</text></g>
<g transform="translate(150.30 767.90) scale(0.8850 1.0000)"><text x="-23.18 -13.90">-4</text></g>
<g transform="translate(206.40 793.20) scale(0.8850 1.0000)"><text x="-29.53 -14.48 0.57 15.63">3065</text></g>
<g transform="translate(282.40 793.20) scale(0.8850 1.0000)"><text x="-29.53 -14.48 0.57 15.63">3070</text></g>
<g transform="translate(358.90 793.20) scale(0.8850 1.0000)"><text x="-29.53 -14.48 0.57 15.63">3075</text></g>
<g transform="translate(435.40 793.20) scale(0.8850 1.0000)"><text x="-29.53 -14.48 0.57 15.63">3080</text></g>
<g transform="translate(511.90 793.20) scale(0.8850 1.0000)"><text x="-29.53 -14.48 0.57 15.63">3085</text></g>
<g transform="translate(156.50 681.70) scale(0.9100 1.0000)"><text x="0.00 12.50 19.45 33.35">x  0</text><path d="M515 0V1237L197 1010V1180L530 1409H696V0Z" transform="translate(19.45 0) scale(0.01221 -0.01221)"/></g>
<g transform="translate(199.50 663.80) scale(0.8600 1.0000)"><text x="0.00 5.49" style="font-size:16.5px">-3</text></g>
<g transform="translate(356.30 669.60) scale(0.9327 1.0000)"><text x="-29.63 -12.29 -6.51 7.95 15.17" style="font-size:26px">Bin 7</text></g>
<g transform="translate(249.50 830.50) scale(0.9317 1.0000)"><text x="0.00 24.54 39.00 52.00 66.46 80.92 95.38 117.04 131.50 145.96 154.62 161.84 169.06 182.06" style="font-size:26px">Wavenumber [cm</text></g>
<g transform="translate(439.00 818.30) scale(1.0800 1.0000)"><text x="0.00 5.66" style="font-size:17px">- </text><path d="M515 0V1237L197 1010V1180L530 1409H696V0Z" transform="translate(5.66 0) scale(0.00830 -0.00830)"/></g>
<g transform="translate(455.10 830.50) scale(0.9183 1.0000)"><text x="0.00" style="font-size:26px">]</text></g>
<g transform="translate(114.50 820.20) rotate(-90) scale(0.9615 1.0000)"><text x="0.00" style="font-size:26px">T</text></g>
<g transform="translate(114.50 804.30) rotate(-90) scale(0.9538 1.0000)"><text x="0.00 8.66 23.12 37.58 50.58 72.24 78.01 85.24 92.46 106.92 121.38 134.38" style="font-size:26px">ransmittance</text></g>
<g transform="translate(114.50 656.50) rotate(-90) scale(0.9087 1.0000)"><text x="0.00 7.22 21.68" style="font-size:26px">[ ]</text><path d="M515 0V1237L197 1010V1180L530 1409H696V0Z" transform="translate(7.22 0) scale(0.01270 -0.01270)"/></g>
<g transform="translate(677.30 703.90) scale(0.8850 1.0000)"><text x="-13.90">0</text></g>
<g transform="translate(677.30 725.90) scale(0.8850 1.0000)"><text x="-23.18 -13.90">-2</text></g>
<g transform="translate(677.30 747.90) scale(0.8850 1.0000)"><text x="-23.18 -13.90">-4</text></g>
<g transform="translate(734.40 793.20) scale(0.8850 1.0000)"><text x="-29.53 -14.48 0.57 15.63">3065</text></g>
<g transform="translate(811.40 793.20) scale(0.8850 1.0000)"><text x="-29.53 -14.48 0.57 15.63">3070</text></g>
<g transform="translate(887.40 793.20) scale(0.8850 1.0000)"><text x="-29.53 -14.48 0.57 15.63">3075</text></g>
<g transform="translate(964.40 793.20) scale(0.8850 1.0000)"><text x="-29.53 -14.48 0.57 15.63">3080</text></g>
<g transform="translate(1040.40 793.20) scale(0.8850 1.0000)"><text x="-29.53 -14.48 0.57 15.63">3085</text></g>
<g transform="translate(683.50 681.70) scale(0.9100 1.0000)"><text x="0.00 12.50 19.45 33.35">x  0</text><path d="M515 0V1237L197 1010V1180L530 1409H696V0Z" transform="translate(19.45 0) scale(0.01221 -0.01221)"/></g>
<g transform="translate(726.50 663.80) scale(0.8600 1.0000)"><text x="0.00 5.49" style="font-size:16.5px">-3</text></g>
<g transform="translate(883.30 669.60) scale(0.9327 1.0000)"><text x="-29.63 -12.29 -6.51 7.95 15.17" style="font-size:26px">Bin 8</text></g>
<g transform="translate(776.50 830.50) scale(0.9317 1.0000)"><text x="0.00 24.54 39.00 52.00 66.46 80.92 95.38 117.04 131.50 145.96 154.62 161.84 169.06 182.06" style="font-size:26px">Wavenumber [cm</text></g>
<g transform="translate(966.00 818.30) scale(1.0800 1.0000)"><text x="0.00 5.66" style="font-size:17px">- </text><path d="M515 0V1237L197 1010V1180L530 1409H696V0Z" transform="translate(5.66 0) scale(0.00830 -0.00830)"/></g>
<g transform="translate(982.10 830.50) scale(0.9183 1.0000)"><text x="0.00" style="font-size:26px">]</text></g>
<g transform="translate(641.50 820.20) rotate(-90) scale(0.9615 1.0000)"><text x="0.00" style="font-size:26px">T</text></g>
<g transform="translate(641.50 804.30) rotate(-90) scale(0.9538 1.0000)"><text x="0.00 8.66 23.12 37.58 50.58 72.24 78.01 85.24 92.46 106.92 121.38 134.38" style="font-size:26px">ransmittance</text></g>
<g transform="translate(641.50 656.50) rotate(-90) scale(0.9087 1.0000)"><text x="0.00 7.22 21.68" style="font-size:26px">[ ]</text><path d="M515 0V1237L197 1010V1180L530 1409H696V0Z" transform="translate(7.22 0) scale(0.01270 -0.01270)"/></g>
</g>
</svg></body></html>
